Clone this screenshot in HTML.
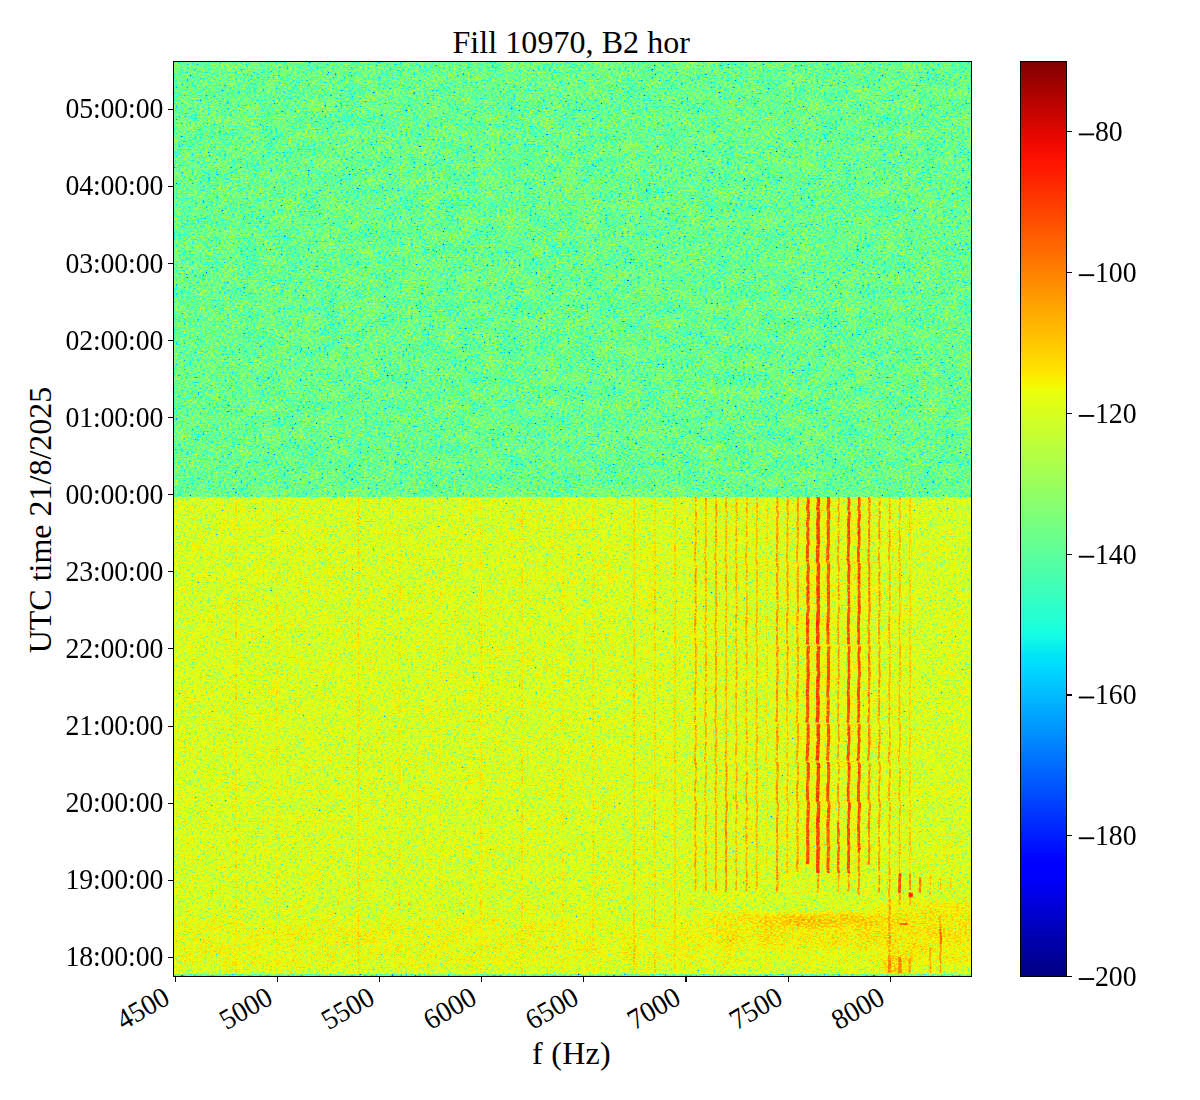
<!DOCTYPE html>
<html><head><meta charset="utf-8"><title>Fill 10970, B2 hor</title>
<style>
html,body{margin:0;padding:0;background:#fff;}
body{width:1200px;height:1100px;position:relative;overflow:hidden;font-family:"Liberation Serif",serif;color:#000;}
.t{position:absolute;white-space:nowrap;line-height:1;font-size:27.78px;}
.l{position:absolute;white-space:nowrap;line-height:1;font-size:32.00px;}
.k{position:absolute;background:#000;}
#spec{position:absolute;left:174px;top:62px;}
#frame{position:absolute;left:173px;top:61px;width:797px;height:914px;border:1px solid #000;}
#cbar{position:absolute;left:1020px;top:61px;width:45px;height:914px;border:1px solid #000;
background:linear-gradient(to top,#000080 0%,#0000ff 11%,#0000ff 12.5%,#00dcff 34%,#00e4f8 35%,#16ffe1 37.5%,#ecff0b 64%,#f8f500 65%,#ffe600 66%,#ff1300 89%,#f10800 91%,#800000 100%);}
</style></head><body>
<svg id="spec" width="797" height="914" viewBox="174 62 797 914">
<defs>
<filter id="jU" filterUnits="userSpaceOnUse" x="174" y="62" width="797" height="435" color-interpolation-filters="sRGB">
<feTurbulence type="fractalNoise" baseFrequency="0.37 0.61" numOctaves="2" seed="3" result="t"/>
<feColorMatrix in="t" type="matrix" values="1 0 0 0 0 1 0 0 0 0 1 0 0 0 0 0 0 0 0 1" result="tg"/>
<feComponentTransfer in="tg" result="nz"><feFuncR type="table" tableValues=".492 .492 .492 .492 .492 .492 .492 .492 .492 .492 .492 .492 .492 .492 .492 .492 .492 .492 .492 .492 .492 .492 .492 .492 .492 .492 .492 .492 .492 .492 .492 .493 .501 .512 .521 .528 .535 .541 .548 .554 .560 .565 .572 .579 .583 .588 .593 .598 .603 .608 .613 .618 .623 .628 .632 .637 .641 .646 .650 .654 .658 .662 .665 .669 .673 .676 .680 .683 .686 .689 .693 .696 .699 .701 .704 .707 .710 .713 .715 .717 .720 .722 .725 .727 .729 .731 .733 .735 .737 .739 .741 .743 .745 .747 .749 .751 .753 .754 .756 .758 .759 .761 .763 .764 .766 .767 .769 .771 .772 .774 .775 .777 .778 .780 .781 .783 .784 .785 .787 .788 .790 .791 .792 .794 .795 .797 .798 .799 .801 .803 .805 .806 .808 .810 .811 .813 .814 .816 .817 .819 .820 .821 .823 .824 .825 .827 .828 .829 .830 .832 .833 .834 .835 .836 .837 .839 .840 .841 .842 .843 .844 .845 .846 .847 .848 .850 .851 .852 .853 .854 .855 .856 .857 .858 .859 .860 .861 .862 .863 .864 .865 .866 .867 .869 .870 .871 .872 .873 .874 .875 .876 .877 .878 .879 .880 .882 .883 .884 .885 .886 .887 .888 .889 .890 .891 .892 .893 .894 .895 .896 .897 .898 .899 .900 .901 .902 .903 .904 .905 .906 .907 .908 .909 .911 .912 .913 .914 .916 .917 .919 .920 .922 .924 .927 .927 .928 .928 .928 .928 .928 .928 .928 .928 .928 .928 .928 .928 .928 .928 .928 .928 .928 .928 .928 .928 .928"/><feFuncG type="table" tableValues=".492 .492 .492 .492 .492 .492 .492 .492 .492 .492 .492 .492 .492 .492 .492 .492 .492 .492 .492 .492 .492 .492 .492 .492 .492 .492 .492 .492 .492 .492 .492 .493 .501 .512 .521 .528 .535 .541 .548 .554 .560 .565 .572 .579 .583 .588 .593 .598 .603 .608 .613 .618 .623 .628 .632 .637 .641 .646 .650 .654 .658 .662 .665 .669 .673 .676 .680 .683 .686 .689 .693 .696 .699 .701 .704 .707 .710 .713 .715 .717 .720 .722 .725 .727 .729 .731 .733 .735 .737 .739 .741 .743 .745 .747 .749 .751 .753 .754 .756 .758 .759 .761 .763 .764 .766 .767 .769 .771 .772 .774 .775 .777 .778 .780 .781 .783 .784 .785 .787 .788 .790 .791 .792 .794 .795 .797 .798 .799 .801 .803 .805 .806 .808 .810 .811 .813 .814 .816 .817 .819 .820 .821 .823 .824 .825 .827 .828 .829 .830 .832 .833 .834 .835 .836 .837 .839 .840 .841 .842 .843 .844 .845 .846 .847 .848 .850 .851 .852 .853 .854 .855 .856 .857 .858 .859 .860 .861 .862 .863 .864 .865 .866 .867 .869 .870 .871 .872 .873 .874 .875 .876 .877 .878 .879 .880 .882 .883 .884 .885 .886 .887 .888 .889 .890 .891 .892 .893 .894 .895 .896 .897 .898 .899 .900 .901 .902 .903 .904 .905 .906 .907 .908 .909 .911 .912 .913 .914 .916 .917 .919 .920 .922 .924 .927 .927 .928 .928 .928 .928 .928 .928 .928 .928 .928 .928 .928 .928 .928 .928 .928 .928 .928 .928 .928 .928 .928"/><feFuncB type="table" tableValues=".492 .492 .492 .492 .492 .492 .492 .492 .492 .492 .492 .492 .492 .492 .492 .492 .492 .492 .492 .492 .492 .492 .492 .492 .492 .492 .492 .492 .492 .492 .492 .493 .501 .512 .521 .528 .535 .541 .548 .554 .560 .565 .572 .579 .583 .588 .593 .598 .603 .608 .613 .618 .623 .628 .632 .637 .641 .646 .650 .654 .658 .662 .665 .669 .673 .676 .680 .683 .686 .689 .693 .696 .699 .701 .704 .707 .710 .713 .715 .717 .720 .722 .725 .727 .729 .731 .733 .735 .737 .739 .741 .743 .745 .747 .749 .751 .753 .754 .756 .758 .759 .761 .763 .764 .766 .767 .769 .771 .772 .774 .775 .777 .778 .780 .781 .783 .784 .785 .787 .788 .790 .791 .792 .794 .795 .797 .798 .799 .801 .803 .805 .806 .808 .810 .811 .813 .814 .816 .817 .819 .820 .821 .823 .824 .825 .827 .828 .829 .830 .832 .833 .834 .835 .836 .837 .839 .840 .841 .842 .843 .844 .845 .846 .847 .848 .850 .851 .852 .853 .854 .855 .856 .857 .858 .859 .860 .861 .862 .863 .864 .865 .866 .867 .869 .870 .871 .872 .873 .874 .875 .876 .877 .878 .879 .880 .882 .883 .884 .885 .886 .887 .888 .889 .890 .891 .892 .893 .894 .895 .896 .897 .898 .899 .900 .901 .902 .903 .904 .905 .906 .907 .908 .909 .911 .912 .913 .914 .916 .917 .919 .920 .922 .924 .927 .927 .928 .928 .928 .928 .928 .928 .928 .928 .928 .928 .928 .928 .928 .928 .928 .928 .928 .928 .928 .928 .928"/></feComponentTransfer>
<feTurbulence type="fractalNoise" baseFrequency="0.05 0.07" numOctaves="3" seed="11" result="lf0"/>
<feColorMatrix in="lf0" type="matrix" values="1 0 0 0 0 1 0 0 0 0 1 0 0 0 0 0 0 0 0 1" result="lf"/>
<feComposite in="SourceGraphic" in2="nz" operator="arithmetic" k1="-0.0000" k2="1.0000" k3="1.0000" k4="-0.8000" result="v0"/>
<feComposite in="v0" in2="lf" operator="arithmetic" k1="0" k2="1" k3="0.100" k4="-0.0500" result="v"/>
<feComponentTransfer in="v"><feFuncR type="table" tableValues="0 0 0 0 0 0 0 0 0 0 0 0 0 0 0 0 0 0 0 0 0 0 0 0 0 0 0 0 0 0 0 0 0 0 0 0 0 0 0 0 0 0 0 0 0 0 0 0 0 0 0 0 0 0 0 0 0 0 0 0 0 0 0 0 0 0 0 0 0 0 0 0.016 0.032 0.048 0.065 0.081 0.097 0.113 0.129 0.145 0.161 0.177 0.194 0.21 0.226 0.242 0.258 0.274 0.29 0.306 0.323 0.339 0.355 0.371 0.387 0.403 0.419 0.435 0.452 0.468 0.484 0.5 0.516 0.532 0.548 0.565 0.581 0.597 0.613 0.629 0.645 0.661 0.677 0.694 0.71 0.726 0.742 0.758 0.774 0.79 0.806 0.823 0.839 0.855 0.871 0.887 0.903 0.919 0.935 0.952 0.968 0.984 1 1 1 1 1 1 1 1 1 1 1 1 1 1 1 1 1 1 1 1 1 1 1 1 1 1 1 1 1 1 1 1 1 1 1 1 1 1 1 1 1 1 1 1 1 1 1 0.977 0.955 0.932 0.909 0.886 0.864 0.841 0.818 0.795 0.773 0.75 0.727 0.705 0.682 0.659 0.636 0.614 0.591 0.568 0.545 0.523 0.5"/>
<feFuncG type="table" tableValues="0 0 0 0 0 0 0 0 0 0 0 0 0 0 0 0 0 0 0 0 0 0 0 0 0 0 0.02 0.04 0.06 0.08 0.1 0.12 0.14 0.16 0.18 0.2 0.22 0.24 0.26 0.28 0.3 0.32 0.34 0.36 0.38 0.4 0.42 0.44 0.46 0.48 0.5 0.52 0.54 0.56 0.58 0.6 0.62 0.64 0.66 0.68 0.7 0.72 0.74 0.76 0.78 0.8 0.82 0.84 0.86 0.88 0.9 0.92 0.94 0.96 0.98 1 1 1 1 1 1 1 1 1 1 1 1 1 1 1 1 1 1 1 1 1 1 1 1 1 1 1 1 1 1 1 1 1 1 1 1 1 1 1 1 1 1 1 1 1 1 1 1 1 1 1 1 1 1 0.981 0.963 0.944 0.926 0.907 0.889 0.87 0.852 0.833 0.815 0.796 0.778 0.759 0.741 0.722 0.704 0.685 0.667 0.648 0.63 0.611 0.593 0.574 0.556 0.537 0.519 0.5 0.481 0.463 0.444 0.426 0.407 0.389 0.37 0.352 0.333 0.315 0.296 0.278 0.259 0.241 0.222 0.204 0.185 0.167 0.148 0.13 0.111 0.093 0.074 0.056 0.037 0.019 0 0 0 0 0 0 0 0 0 0 0 0 0 0 0 0 0 0 0"/>
<feFuncB type="table" tableValues="0.5 0.523 0.545 0.568 0.591 0.614 0.636 0.659 0.682 0.705 0.727 0.75 0.773 0.795 0.818 0.841 0.864 0.886 0.909 0.932 0.955 0.977 1 1 1 1 1 1 1 1 1 1 1 1 1 1 1 1 1 1 1 1 1 1 1 1 1 1 1 1 1 1 1 1 1 1 1 1 1 1 1 1 1 1 1 1 1 1 1 0.984 0.968 0.952 0.935 0.919 0.903 0.887 0.871 0.855 0.839 0.823 0.806 0.79 0.774 0.758 0.742 0.726 0.71 0.694 0.677 0.661 0.645 0.629 0.613 0.597 0.581 0.565 0.548 0.532 0.516 0.5 0.484 0.468 0.452 0.435 0.419 0.403 0.387 0.371 0.355 0.339 0.323 0.306 0.29 0.274 0.258 0.242 0.226 0.21 0.194 0.177 0.161 0.145 0.129 0.113 0.097 0.081 0.065 0.048 0.032 0.016 0 0 0 0 0 0 0 0 0 0 0 0 0 0 0 0 0 0 0 0 0 0 0 0 0 0 0 0 0 0 0 0 0 0 0 0 0 0 0 0 0 0 0 0 0 0 0 0 0 0 0 0 0 0 0 0 0 0 0 0 0 0 0 0 0 0 0 0 0 0 0"/></feComponentTransfer>
</filter>
<filter id="jL" filterUnits="userSpaceOnUse" x="174" y="497" width="797" height="479" color-interpolation-filters="sRGB">
<feTurbulence type="fractalNoise" baseFrequency="0.37 0.61" numOctaves="2" seed="3" result="t"/>
<feColorMatrix in="t" type="matrix" values="1 0 0 0 0 1 0 0 0 0 1 0 0 0 0 0 0 0 0 1" result="tg"/>
<feComponentTransfer in="tg" result="nz"><feFuncR type="table" tableValues=".446 .446 .446 .446 .446 .446 .446 .446 .446 .446 .446 .446 .446 .446 .446 .446 .446 .446 .446 .446 .446 .446 .446 .446 .446 .446 .446 .446 .446 .446 .446 .446 .446 .446 .446 .446 .446 .569 .569 .569 .569 .569 .572 .579 .583 .588 .593 .598 .603 .608 .613 .618 .623 .628 .632 .637 .641 .646 .650 .654 .658 .662 .665 .669 .673 .676 .680 .683 .686 .689 .693 .696 .699 .701 .704 .707 .710 .713 .715 .717 .720 .722 .725 .727 .729 .731 .733 .735 .737 .739 .741 .743 .745 .747 .749 .751 .753 .754 .756 .758 .759 .761 .763 .764 .766 .767 .769 .771 .772 .774 .775 .777 .778 .780 .781 .783 .784 .785 .787 .788 .790 .791 .792 .794 .795 .797 .798 .799 .800 .802 .803 .804 .805 .806 .807 .808 .809 .810 .811 .811 .812 .813 .814 .815 .816 .816 .817 .818 .819 .819 .820 .821 .822 .822 .823 .824 .824 .825 .826 .826 .827 .828 .829 .829 .830 .830 .831 .832 .832 .833 .834 .834 .835 .836 .836 .837 .838 .838 .839 .840 .840 .841 .842 .842 .843 .844 .844 .845 .846 .846 .847 .847 .848 .849 .849 .850 .851 .851 .852 .853 .853 .854 .855 .855 .856 .857 .857 .858 .858 .859 .860 .860 .861 .862 .862 .863 .863 .864 .865 .865 .866 .867 .867 .868 .869 .869 .870 .871 .872 .873 .874 .875 .876 .878 .878 .879 .879 .879 .879 .879 .879 .879 .879 .879 .879 .879 .879 .879 .879 .879 .879 .879 .879 .879 .879 .879"/><feFuncG type="table" tableValues=".446 .446 .446 .446 .446 .446 .446 .446 .446 .446 .446 .446 .446 .446 .446 .446 .446 .446 .446 .446 .446 .446 .446 .446 .446 .446 .446 .446 .446 .446 .446 .446 .446 .446 .446 .446 .446 .569 .569 .569 .569 .569 .572 .579 .583 .588 .593 .598 .603 .608 .613 .618 .623 .628 .632 .637 .641 .646 .650 .654 .658 .662 .665 .669 .673 .676 .680 .683 .686 .689 .693 .696 .699 .701 .704 .707 .710 .713 .715 .717 .720 .722 .725 .727 .729 .731 .733 .735 .737 .739 .741 .743 .745 .747 .749 .751 .753 .754 .756 .758 .759 .761 .763 .764 .766 .767 .769 .771 .772 .774 .775 .777 .778 .780 .781 .783 .784 .785 .787 .788 .790 .791 .792 .794 .795 .797 .798 .799 .800 .802 .803 .804 .805 .806 .807 .808 .809 .810 .811 .811 .812 .813 .814 .815 .816 .816 .817 .818 .819 .819 .820 .821 .822 .822 .823 .824 .824 .825 .826 .826 .827 .828 .829 .829 .830 .830 .831 .832 .832 .833 .834 .834 .835 .836 .836 .837 .838 .838 .839 .840 .840 .841 .842 .842 .843 .844 .844 .845 .846 .846 .847 .847 .848 .849 .849 .850 .851 .851 .852 .853 .853 .854 .855 .855 .856 .857 .857 .858 .858 .859 .860 .860 .861 .862 .862 .863 .863 .864 .865 .865 .866 .867 .867 .868 .869 .869 .870 .871 .872 .873 .874 .875 .876 .878 .878 .879 .879 .879 .879 .879 .879 .879 .879 .879 .879 .879 .879 .879 .879 .879 .879 .879 .879 .879 .879 .879"/><feFuncB type="table" tableValues=".446 .446 .446 .446 .446 .446 .446 .446 .446 .446 .446 .446 .446 .446 .446 .446 .446 .446 .446 .446 .446 .446 .446 .446 .446 .446 .446 .446 .446 .446 .446 .446 .446 .446 .446 .446 .446 .569 .569 .569 .569 .569 .572 .579 .583 .588 .593 .598 .603 .608 .613 .618 .623 .628 .632 .637 .641 .646 .650 .654 .658 .662 .665 .669 .673 .676 .680 .683 .686 .689 .693 .696 .699 .701 .704 .707 .710 .713 .715 .717 .720 .722 .725 .727 .729 .731 .733 .735 .737 .739 .741 .743 .745 .747 .749 .751 .753 .754 .756 .758 .759 .761 .763 .764 .766 .767 .769 .771 .772 .774 .775 .777 .778 .780 .781 .783 .784 .785 .787 .788 .790 .791 .792 .794 .795 .797 .798 .799 .800 .802 .803 .804 .805 .806 .807 .808 .809 .810 .811 .811 .812 .813 .814 .815 .816 .816 .817 .818 .819 .819 .820 .821 .822 .822 .823 .824 .824 .825 .826 .826 .827 .828 .829 .829 .830 .830 .831 .832 .832 .833 .834 .834 .835 .836 .836 .837 .838 .838 .839 .840 .840 .841 .842 .842 .843 .844 .844 .845 .846 .846 .847 .847 .848 .849 .849 .850 .851 .851 .852 .853 .853 .854 .855 .855 .856 .857 .857 .858 .858 .859 .860 .860 .861 .862 .862 .863 .863 .864 .865 .865 .866 .867 .867 .868 .869 .869 .870 .871 .872 .873 .874 .875 .876 .878 .878 .879 .879 .879 .879 .879 .879 .879 .879 .879 .879 .879 .879 .879 .879 .879 .879 .879 .879 .879 .879 .879"/></feComponentTransfer>
<feTurbulence type="fractalNoise" baseFrequency="0.05 0.07" numOctaves="3" seed="11" result="lf0"/>
<feColorMatrix in="lf0" type="matrix" values="1 0 0 0 0 1 0 0 0 0 1 0 0 0 0 0 0 0 0 1" result="lf"/>
<feComposite in="SourceGraphic" in2="nz" operator="arithmetic" k1="-2.2000" k2="2.7600" k3="2.3606" k4="-1.8885" result="v0"/>
<feComposite in="v0" in2="lf" operator="arithmetic" k1="0" k2="1" k3="0.060" k4="-0.0300" result="v"/>
<feComponentTransfer in="v"><feFuncR type="table" tableValues="0 0 0 0 0 0 0 0 0 0 0 0 0 0 0 0 0 0 0 0 0 0 0 0 0 0 0 0 0 0 0 0 0 0 0 0 0 0 0 0 0 0 0 0 0 0 0 0 0 0 0 0 0 0 0 0 0 0 0 0 0 0 0 0 0 0 0 0 0 0 0 0.016 0.032 0.048 0.065 0.081 0.097 0.113 0.129 0.145 0.161 0.177 0.194 0.21 0.226 0.242 0.258 0.274 0.29 0.306 0.323 0.339 0.355 0.371 0.387 0.403 0.419 0.435 0.452 0.468 0.484 0.5 0.516 0.532 0.548 0.565 0.581 0.597 0.613 0.629 0.645 0.661 0.677 0.694 0.71 0.726 0.742 0.758 0.774 0.79 0.806 0.823 0.839 0.855 0.871 0.887 0.903 0.919 0.935 0.952 0.968 0.984 1 1 1 1 1 1 1 1 1 1 1 1 1 1 1 1 1 1 1 1 1 1 1 1 1 1 1 1 1 1 1 1 1 1 1 1 1 1 1 1 1 1 1 1 1 1 1 0.977 0.955 0.932 0.909 0.886 0.864 0.841 0.818 0.795 0.773 0.75 0.727 0.705 0.682 0.659 0.636 0.614 0.591 0.568 0.545 0.523 0.5"/>
<feFuncG type="table" tableValues="0 0 0 0 0 0 0 0 0 0 0 0 0 0 0 0 0 0 0 0 0 0 0 0 0 0 0.02 0.04 0.06 0.08 0.1 0.12 0.14 0.16 0.18 0.2 0.22 0.24 0.26 0.28 0.3 0.32 0.34 0.36 0.38 0.4 0.42 0.44 0.46 0.48 0.5 0.52 0.54 0.56 0.58 0.6 0.62 0.64 0.66 0.68 0.7 0.72 0.74 0.76 0.78 0.8 0.82 0.84 0.86 0.88 0.9 0.92 0.94 0.96 0.98 1 1 1 1 1 1 1 1 1 1 1 1 1 1 1 1 1 1 1 1 1 1 1 1 1 1 1 1 1 1 1 1 1 1 1 1 1 1 1 1 1 1 1 1 1 1 1 1 1 1 1 1 1 1 0.981 0.963 0.944 0.926 0.907 0.889 0.87 0.852 0.833 0.815 0.796 0.778 0.759 0.741 0.722 0.704 0.685 0.667 0.648 0.63 0.611 0.593 0.574 0.556 0.537 0.519 0.5 0.481 0.463 0.444 0.426 0.407 0.389 0.37 0.352 0.333 0.315 0.296 0.278 0.259 0.241 0.222 0.204 0.185 0.167 0.148 0.13 0.111 0.093 0.074 0.056 0.037 0.019 0 0 0 0 0 0 0 0 0 0 0 0 0 0 0 0 0 0 0"/>
<feFuncB type="table" tableValues="0.5 0.523 0.545 0.568 0.591 0.614 0.636 0.659 0.682 0.705 0.727 0.75 0.773 0.795 0.818 0.841 0.864 0.886 0.909 0.932 0.955 0.977 1 1 1 1 1 1 1 1 1 1 1 1 1 1 1 1 1 1 1 1 1 1 1 1 1 1 1 1 1 1 1 1 1 1 1 1 1 1 1 1 1 1 1 1 1 1 1 0.984 0.968 0.952 0.935 0.919 0.903 0.887 0.871 0.855 0.839 0.823 0.806 0.79 0.774 0.758 0.742 0.726 0.71 0.694 0.677 0.661 0.645 0.629 0.613 0.597 0.581 0.565 0.548 0.532 0.516 0.5 0.484 0.468 0.452 0.435 0.419 0.403 0.387 0.371 0.355 0.339 0.323 0.306 0.29 0.274 0.258 0.242 0.226 0.21 0.194 0.177 0.161 0.145 0.129 0.113 0.097 0.081 0.065 0.048 0.032 0.016 0 0 0 0 0 0 0 0 0 0 0 0 0 0 0 0 0 0 0 0 0 0 0 0 0 0 0 0 0 0 0 0 0 0 0 0 0 0 0 0 0 0 0 0 0 0 0 0 0 0 0 0 0 0 0 0 0 0 0 0 0 0 0 0 0 0 0 0 0 0 0"/></feComponentTransfer>
</filter>
<filter id="sb" filterUnits="userSpaceOnUse" x="100" y="850" width="950" height="180" color-interpolation-filters="sRGB"><feGaussianBlur stdDeviation="6 2.2"/></filter>
<filter id="sb2" filterUnits="userSpaceOnUse" x="700" y="480" width="300" height="420" color-interpolation-filters="sRGB"><feGaussianBlur stdDeviation="3 3"/></filter>
</defs>
<g filter="url(#jU)"><rect x="170.0" y="58.0" width="806.0" height="439.0" fill="rgb(123,123,123)"/></g>
<g filter="url(#jL)" fill="none" stroke-linecap="butt" stroke-linejoin="round">
<rect x="170.0" y="497.0" width="806.0" height="483.0" fill="rgb(158,158,158)"/>
<g filter="url(#sb)">
<rect x="150.0" y="893.0" width="850.0" height="23.0" fill="rgb(157,157,157)"/>
<rect x="150.0" y="919.0" width="850.0" height="47.0" fill="rgb(162,162,162)"/>
<rect x="150.0" y="924.0" width="410.0" height="26.0" fill="rgb(164,164,164)" fill-opacity="0.80"/>
<rect x="700.0" y="912.0" width="300.0" height="38.0" fill="rgb(168,168,168)" fill-opacity="0.90"/>
<rect x="760.0" y="914.0" width="240.0" height="14.0" fill="rgb(174,174,174)" fill-opacity="0.90"/>
<rect x="785.0" y="916.0" width="108.0" height="10.0" fill="rgb(179,179,179)" fill-opacity="0.90"/>
<rect x="884.0" y="900.0" width="116.0" height="62.0" fill="rgb(169,169,169)" fill-opacity="0.70"/>
<rect x="884.0" y="955.0" width="28.0" height="30.0" fill="rgb(179,179,179)" fill-opacity="0.90"/>
</g>
<rect x="170.0" y="974.2" width="806.0" height="5.8" fill="rgb(120,120,120)"/>
<path d="M236.1 497.0 L236.1 500.0 L236.2 503.0 L236.1 506.0 L236.0 509.0 L236.2 512.0 L236.2 515.0 L236.1 518.0 L236.0 521.0 L236.0 524.0 L236.1 527.0 L236.1 530.0 L236.1 533.0 L236.0 536.0 L236.1 539.0 L236.1 542.0 L236.1 545.0 L236.0 548.0 L236.0 551.0 L236.0 554.0 L235.9 557.0 L235.9 560.0 L236.1 563.0 L236.1 566.0 L236.2 569.0 L236.1 572.0 L236.1 575.0 L236.0 578.0 L236.0 581.0 L236.2 584.0 L236.1 587.0 L236.1 590.0 L236.1 593.0 L236.1 596.0 L236.1 599.0 L236.1 602.0 L236.2 605.0 L236.2 608.0 L236.1 611.0 L236.0 614.0 L236.0 617.0 L236.0 620.0 L236.0 623.0 L235.9 626.0 L235.9 629.0 L236.0 632.0 L236.1 635.0 L236.0 638.0 L236.0 641.0 L236.0 644.0 L236.2 647.0 L236.2 650.0 L236.1 653.0 L236.0 656.0 L236.1 659.0 L236.1 662.0 L236.1 665.0 L236.1 668.0 L236.2 671.0 L236.2 674.0 L236.1 677.0 L236.1 680.0 L236.0 683.0 L236.1 686.0 L236.0 689.0 L235.9 692.0 L235.9 695.0 L236.0 698.0 L236.1 701.0 L236.0 704.0 L236.0 707.0 L236.0 710.0 L236.1 713.0 L236.0 716.0 L235.9 719.0 L235.9 722.0 L236.1 725.0 L236.1 728.0 L236.1 731.0 L236.1 734.0 L236.1 737.0 L236.2 740.0 L236.1 743.0 L236.0 746.0 L236.0 749.0 L236.0 752.0 L236.0 755.0 L235.9 758.0 L235.9 761.0 L236.2 764.0 L236.2 767.0 L236.2 770.0 L236.1 773.0 L236.1 776.0 L236.2 779.0 L236.1 782.0 L236.0 785.0 L235.9 788.0 L236.0 791.0 L236.0 794.0 L235.9 797.0 L235.9 800.0 L236.2 803.0 L236.3 806.0 L236.2 809.0 L236.1 812.0 L236.1 815.0 L236.1 818.0 L236.1 821.0 L236.0 824.0 L235.9 827.0 L236.0 830.0 L236.1 833.0 L236.0 836.0 L236.0 839.0 L236.0 842.0 L236.0 845.0 L236.2 848.0 L236.1 851.0 L236.0 854.0 L236.1 857.0 L236.0 860.0 L236.0 863.0 L236.0 866.0 L236.0 869.0 L236.1 872.0 L236.1 875.0 L236.1 878.0 L236.1 881.0 L236.1 884.0 L236.0 887.0 L236.0 890.0 L236.0 893.0 L236.0 896.0 L236.1 899.0 L236.1 902.0 L236.1 905.0 L236.1 908.0 L236.2 911.0 L236.1 914.0 L236.0 917.0 L236.0 920.0 L236.0 923.0 L236.0 926.0 L236.0 929.0 L236.0 932.0 L236.1 935.0 L236.2 938.0 L236.1 941.0 L236.1 944.0 L236.1 947.0 L236.1 950.0 L236.1 953.0 L236.0 956.0 L236.0 959.0 L236.0 962.0 L236.1 965.0 L236.1 968.0 L236.1 971.0 L236.1 973.0" stroke="rgb(168,168,168)" stroke-width="2.0"/>
<path d="M276.9 497.0 L277.0 500.0 L277.0 503.0 L276.9 506.0 L276.8 509.0 L277.0 512.0 L277.1 515.0 L277.0 518.0 L276.9 521.0 L276.9 524.0 L276.9 527.0 L276.9 530.0 L276.9 533.0 L276.9 536.0 L277.0 539.0 L277.0 542.0 L276.9 545.0 L276.8 548.0 L276.8 551.0 L276.8 554.0 L276.8 557.0 L276.7 560.0 L276.9 563.0 L277.0 566.0 L277.0 569.0 L277.0 572.0 L276.9 575.0 L276.9 578.0 L276.9 581.0 L277.0 584.0 L276.9 587.0 L276.9 590.0 L277.0 593.0 L277.0 596.0 L276.9 599.0 L276.9 602.0 L277.0 605.0 L277.0 608.0 L277.0 611.0 L276.9 614.0 L276.9 617.0 L276.9 620.0 L276.8 623.0 L276.8 626.0 L276.8 629.0 L276.8 632.0 L276.9 635.0 L276.9 638.0 L276.8 641.0 L276.8 644.0 L277.1 647.0 L277.0 650.0 L276.9 653.0 L276.9 656.0 L276.9 659.0 L277.0 662.0 L276.9 665.0 L276.9 668.0 L277.0 671.0 L277.1 674.0 L277.0 677.0 L276.9 680.0 L276.9 683.0 L276.9 686.0 L276.9 689.0 L276.8 692.0 L276.8 695.0 L276.9 698.0 L276.9 701.0 L276.9 704.0 L276.8 707.0 L276.9 710.0 L276.9 713.0 L276.8 716.0 L276.7 719.0 L276.7 722.0 L277.0 725.0 L277.0 728.0 L276.9 731.0 L276.9 734.0 L277.0 737.0 L277.0 740.0 L277.0 743.0 L276.9 746.0 L276.8 749.0 L276.9 752.0 L276.8 755.0 L276.7 758.0 L276.7 761.0 L277.0 764.0 L277.1 767.0 L277.0 770.0 L277.0 773.0 L277.0 776.0 L277.0 779.0 L276.9 782.0 L276.8 785.0 L276.8 788.0 L276.8 791.0 L276.8 794.0 L276.8 797.0 L276.8 800.0 L277.1 803.0 L277.1 806.0 L277.1 809.0 L277.0 812.0 L276.9 815.0 L276.9 818.0 L276.9 821.0 L276.8 824.0 L276.8 827.0 L276.9 830.0 L276.9 833.0 L276.9 836.0 L276.8 839.0 L276.9 842.0 L276.9 845.0 L277.0 848.0 L276.9 851.0 L276.9 854.0 L276.9 857.0 L276.9 860.0 L276.8 863.0 L276.8 866.0 L276.9 869.0 L276.9 872.0 L277.0 875.0 L276.9 878.0 L276.9 881.0 L276.9 884.0 L276.9 887.0 L276.8 890.0 L276.8 893.0 L276.9 896.0 L276.9 899.0 L276.9 902.0 L276.9 905.0 L277.0 908.0 L277.0 911.0 L276.9 914.0 L276.8 917.0 L276.8 920.0 L276.9 923.0 L276.9 926.0 L276.8 929.0 L276.8 932.0 L276.9 935.0 L277.0 938.0 L277.0 941.0 L276.9 944.0 L276.9 947.0 L276.9 950.0 L276.9 953.0 L276.8 956.0 L276.8 959.0 L276.9 962.0 L276.9 965.0 L276.9 968.0 L276.9 971.0 L276.9 973.0" stroke="rgb(167,167,167)" stroke-width="2.0"/>
<path d="M358.6 497.0 L358.7 500.0 L358.7 503.0 L358.6 506.0 L358.5 509.0 L358.7 512.0 L358.8 515.0 L358.7 518.0 L358.6 521.0 L358.5 524.0 L358.6 527.0 L358.6 530.0 L358.6 533.0 L358.6 536.0 L358.6 539.0 L358.7 542.0 L358.6 545.0 L358.5 548.0 L358.5 551.0 L358.5 554.0 L358.4 557.0 L358.4 560.0 L358.6 563.0 L358.7 566.0 L358.7 569.0 L358.7 572.0 L358.6 575.0 L358.6 578.0 L358.6 581.0 L358.7 584.0 L358.6 587.0 L358.6 590.0 L358.6 593.0 L358.7 596.0 L358.6 599.0 L358.6 602.0 L358.7 605.0 L358.7 608.0 L358.7 611.0 L358.6 614.0 L358.5 617.0 L358.6 620.0 L358.5 623.0 L358.4 626.0 L358.4 629.0 L358.5 632.0 L358.6 635.0 L358.5 638.0 L358.5 641.0 L358.5 644.0 L358.8 647.0 L358.7 650.0 L358.6 653.0 L358.6 656.0 L358.6 659.0 L358.7 662.0 L358.6 665.0 L358.6 668.0 L358.7 671.0 L358.7 674.0 L358.7 677.0 L358.6 680.0 L358.6 683.0 L358.6 686.0 L358.5 689.0 L358.5 692.0 L358.4 695.0 L358.5 698.0 L358.6 701.0 L358.6 704.0 L358.5 707.0 L358.6 710.0 L358.6 713.0 L358.5 716.0 L358.4 719.0 L358.4 722.0 L358.7 725.0 L358.7 728.0 L358.6 731.0 L358.6 734.0 L358.7 737.0 L358.7 740.0 L358.7 743.0 L358.5 746.0 L358.5 749.0 L358.5 752.0 L358.5 755.0 L358.4 758.0 L358.4 761.0 L358.7 764.0 L358.7 767.0 L358.7 770.0 L358.6 773.0 L358.7 776.0 L358.7 779.0 L358.6 782.0 L358.5 785.0 L358.4 788.0 L358.5 791.0 L358.5 794.0 L358.4 797.0 L358.4 800.0 L358.8 803.0 L358.8 806.0 L358.7 809.0 L358.6 812.0 L358.6 815.0 L358.6 818.0 L358.6 821.0 L358.5 824.0 L358.5 827.0 L358.5 830.0 L358.6 833.0 L358.5 836.0 L358.5 839.0 L358.5 842.0 L358.6 845.0 L358.7 848.0 L358.6 851.0 L358.5 854.0 L358.6 857.0 L358.6 860.0 L358.5 863.0 L358.5 866.0 L358.5 869.0 L358.6 872.0 L358.7 875.0 L358.6 878.0 L358.6 881.0 L358.6 884.0 L358.6 887.0 L358.5 890.0 L358.5 893.0 L358.6 896.0 L358.6 899.0 L358.6 902.0 L358.6 905.0 L358.6 908.0 L358.7 911.0 L358.6 914.0 L358.5 917.0 L358.5 920.0 L358.5 923.0 L358.6 926.0 L358.5 929.0 L358.5 932.0 L358.6 935.0 L358.7 938.0 L358.7 941.0 L358.6 944.0 L358.6 947.0 L358.6 950.0 L358.6 953.0 L358.5 956.0 L358.5 959.0 L358.6 962.0 L358.6 965.0 L358.6 968.0 L358.6 971.0 L358.6 973.0" stroke="rgb(172,172,172)" stroke-width="2.0"/>
<path d="M399.5 497.0 L399.5 500.0 L399.5 503.0 L399.4 506.0 L399.3 509.0 L399.6 512.0 L399.6 515.0 L399.5 518.0 L399.4 521.0 L399.4 524.0 L399.4 527.0 L399.5 530.0 L399.4 533.0 L399.4 536.0 L399.5 539.0 L399.5 542.0 L399.4 545.0 L399.3 548.0 L399.3 551.0 L399.3 554.0 L399.3 557.0 L399.2 560.0 L399.4 563.0 L399.5 566.0 L399.6 569.0 L399.5 572.0 L399.4 575.0 L399.4 578.0 L399.4 581.0 L399.6 584.0 L399.4 587.0 L399.4 590.0 L399.5 593.0 L399.5 596.0 L399.5 599.0 L399.5 602.0 L399.5 605.0 L399.6 608.0 L399.5 611.0 L399.4 614.0 L399.4 617.0 L399.4 620.0 L399.4 623.0 L399.3 626.0 L399.3 629.0 L399.4 632.0 L399.4 635.0 L399.4 638.0 L399.3 641.0 L399.3 644.0 L399.6 647.0 L399.6 650.0 L399.4 653.0 L399.4 656.0 L399.5 659.0 L399.5 662.0 L399.5 665.0 L399.4 668.0 L399.5 671.0 L399.6 674.0 L399.5 677.0 L399.4 680.0 L399.4 683.0 L399.4 686.0 L399.4 689.0 L399.3 692.0 L399.3 695.0 L399.4 698.0 L399.4 701.0 L399.4 704.0 L399.4 707.0 L399.4 710.0 L399.4 713.0 L399.3 716.0 L399.2 719.0 L399.2 722.0 L399.5 725.0 L399.5 728.0 L399.5 731.0 L399.4 734.0 L399.5 737.0 L399.6 740.0 L399.5 743.0 L399.4 746.0 L399.4 749.0 L399.4 752.0 L399.3 755.0 L399.2 758.0 L399.2 761.0 L399.5 764.0 L399.6 767.0 L399.5 770.0 L399.5 773.0 L399.5 776.0 L399.5 779.0 L399.5 782.0 L399.3 785.0 L399.3 788.0 L399.3 791.0 L399.3 794.0 L399.3 797.0 L399.3 800.0 L399.6 803.0 L399.7 806.0 L399.6 809.0 L399.5 812.0 L399.5 815.0 L399.5 818.0 L399.4 821.0 L399.3 824.0 L399.3 827.0 L399.4 830.0 L399.4 833.0 L399.4 836.0 L399.3 839.0 L399.4 842.0 L399.4 845.0 L399.6 848.0 L399.4 851.0 L399.4 854.0 L399.4 857.0 L399.4 860.0 L399.3 863.0 L399.3 866.0 L399.4 869.0 L399.4 872.0 L399.5 875.0 L399.4 878.0 L399.4 881.0 L399.4 884.0 L399.4 887.0 L399.3 890.0 L399.3 893.0 L399.4 896.0 L399.5 899.0 L399.5 902.0 L399.4 905.0 L399.5 908.0 L399.5 911.0 L399.5 914.0 L399.4 917.0 L399.3 920.0 L399.4 923.0 L399.4 926.0 L399.4 929.0 L399.4 932.0 L399.5 935.0 L399.5 938.0 L399.5 941.0 L399.4 944.0 L399.4 947.0 L399.5 950.0 L399.4 953.0 L399.3 956.0 L399.3 959.0 L399.4 962.0 L399.5 965.0 L399.4 968.0 L399.4 971.0 L399.5 973.0" stroke="rgb(167,167,167)" stroke-width="2.0"/>
<path d="M440.3 497.0 L440.4 500.0 L440.4 503.0 L440.3 506.0 L440.2 509.0 L440.4 512.0 L440.4 515.0 L440.4 518.0 L440.2 521.0 L440.2 524.0 L440.3 527.0 L440.3 530.0 L440.3 533.0 L440.2 536.0 L440.3 539.0 L440.4 542.0 L440.3 545.0 L440.2 548.0 L440.1 551.0 L440.2 554.0 L440.1 557.0 L440.0 560.0 L440.3 563.0 L440.4 566.0 L440.4 569.0 L440.3 572.0 L440.3 575.0 L440.2 578.0 L440.2 581.0 L440.4 584.0 L440.3 587.0 L440.3 590.0 L440.3 593.0 L440.4 596.0 L440.3 599.0 L440.3 602.0 L440.4 605.0 L440.4 608.0 L440.4 611.0 L440.2 614.0 L440.2 617.0 L440.2 620.0 L440.2 623.0 L440.1 626.0 L440.1 629.0 L440.2 632.0 L440.3 635.0 L440.2 638.0 L440.2 641.0 L440.2 644.0 L440.5 647.0 L440.4 650.0 L440.3 653.0 L440.2 656.0 L440.3 659.0 L440.3 662.0 L440.3 665.0 L440.3 668.0 L440.4 671.0 L440.4 674.0 L440.4 677.0 L440.3 680.0 L440.2 683.0 L440.3 686.0 L440.2 689.0 L440.1 692.0 L440.1 695.0 L440.2 698.0 L440.3 701.0 L440.2 704.0 L440.2 707.0 L440.2 710.0 L440.3 713.0 L440.2 716.0 L440.1 719.0 L440.0 722.0 L440.4 725.0 L440.4 728.0 L440.3 731.0 L440.3 734.0 L440.4 737.0 L440.4 740.0 L440.3 743.0 L440.2 746.0 L440.2 749.0 L440.2 752.0 L440.1 755.0 L440.0 758.0 L440.0 761.0 L440.4 764.0 L440.4 767.0 L440.4 770.0 L440.3 773.0 L440.4 776.0 L440.4 779.0 L440.3 782.0 L440.2 785.0 L440.1 788.0 L440.2 791.0 L440.2 794.0 L440.1 797.0 L440.1 800.0 L440.4 803.0 L440.5 806.0 L440.4 809.0 L440.3 812.0 L440.3 815.0 L440.3 818.0 L440.3 821.0 L440.1 824.0 L440.1 827.0 L440.2 830.0 L440.3 833.0 L440.2 836.0 L440.2 839.0 L440.2 842.0 L440.2 845.0 L440.4 848.0 L440.3 851.0 L440.2 854.0 L440.2 857.0 L440.2 860.0 L440.2 863.0 L440.1 866.0 L440.2 869.0 L440.3 872.0 L440.3 875.0 L440.3 878.0 L440.3 881.0 L440.3 884.0 L440.2 887.0 L440.1 890.0 L440.1 893.0 L440.2 896.0 L440.3 899.0 L440.3 902.0 L440.3 905.0 L440.3 908.0 L440.4 911.0 L440.3 914.0 L440.2 917.0 L440.2 920.0 L440.2 923.0 L440.2 926.0 L440.2 929.0 L440.2 932.0 L440.3 935.0 L440.4 938.0 L440.3 941.0 L440.3 944.0 L440.3 947.0 L440.3 950.0 L440.2 953.0 L440.1 956.0 L440.1 959.0 L440.2 962.0 L440.3 965.0 L440.3 968.0 L440.3 971.0 L440.3 973.0" stroke="rgb(164,164,164)" stroke-width="2.0"/>
<path d="M481.1 497.0 L481.2 500.0 L481.2 503.0 L481.1 506.0 L481.0 509.0 L481.3 512.0 L481.3 515.0 L481.2 518.0 L481.1 521.0 L481.0 524.0 L481.1 527.0 L481.2 530.0 L481.1 533.0 L481.1 536.0 L481.2 539.0 L481.2 542.0 L481.1 545.0 L481.0 548.0 L481.0 551.0 L481.0 554.0 L481.0 557.0 L480.9 560.0 L481.1 563.0 L481.2 566.0 L481.3 569.0 L481.2 572.0 L481.1 575.0 L481.1 578.0 L481.1 581.0 L481.3 584.0 L481.1 587.0 L481.1 590.0 L481.2 593.0 L481.2 596.0 L481.1 599.0 L481.1 602.0 L481.2 605.0 L481.3 608.0 L481.2 611.0 L481.1 614.0 L481.0 617.0 L481.1 620.0 L481.0 623.0 L480.9 626.0 L480.9 629.0 L481.0 632.0 L481.1 635.0 L481.1 638.0 L481.0 641.0 L481.0 644.0 L481.3 647.0 L481.2 650.0 L481.1 653.0 L481.1 656.0 L481.2 659.0 L481.2 662.0 L481.1 665.0 L481.1 668.0 L481.2 671.0 L481.3 674.0 L481.2 677.0 L481.1 680.0 L481.1 683.0 L481.1 686.0 L481.1 689.0 L481.0 692.0 L481.0 695.0 L481.1 698.0 L481.1 701.0 L481.1 704.0 L481.0 707.0 L481.1 710.0 L481.1 713.0 L481.0 716.0 L480.9 719.0 L480.9 722.0 L481.2 725.0 L481.2 728.0 L481.1 731.0 L481.1 734.0 L481.2 737.0 L481.3 740.0 L481.2 743.0 L481.1 746.0 L481.0 749.0 L481.0 752.0 L481.0 755.0 L480.9 758.0 L480.8 761.0 L481.2 764.0 L481.3 767.0 L481.2 770.0 L481.2 773.0 L481.2 776.0 L481.2 779.0 L481.1 782.0 L481.0 785.0 L480.9 788.0 L481.0 791.0 L481.0 794.0 L480.9 797.0 L480.9 800.0 L481.3 803.0 L481.4 806.0 L481.3 809.0 L481.2 812.0 L481.1 815.0 L481.2 818.0 L481.1 821.0 L481.0 824.0 L481.0 827.0 L481.0 830.0 L481.1 833.0 L481.1 836.0 L481.0 839.0 L481.1 842.0 L481.1 845.0 L481.3 848.0 L481.1 851.0 L481.1 854.0 L481.1 857.0 L481.1 860.0 L481.0 863.0 L481.0 866.0 L481.1 869.0 L481.1 872.0 L481.2 875.0 L481.1 878.0 L481.1 881.0 L481.1 884.0 L481.1 887.0 L481.0 890.0 L481.0 893.0 L481.1 896.0 L481.2 899.0 L481.1 902.0 L481.1 905.0 L481.2 908.0 L481.2 911.0 L481.2 914.0 L481.0 917.0 L481.0 920.0 L481.1 923.0 L481.1 926.0 L481.0 929.0 L481.0 932.0 L481.1 935.0 L481.2 938.0 L481.2 941.0 L481.1 944.0 L481.1 947.0 L481.1 950.0 L481.1 953.0 L481.0 956.0 L481.0 959.0 L481.1 962.0 L481.1 965.0 L481.1 968.0 L481.1 971.0 L481.1 973.0" stroke="rgb(168,168,168)" stroke-width="2.0"/>
<path d="M522.0 497.0 L522.1 500.0 L522.1 503.0 L522.0 506.0 L521.9 509.0 L522.1 512.0 L522.1 515.0 L522.1 518.0 L521.9 521.0 L521.9 524.0 L522.0 527.0 L522.0 530.0 L521.9 533.0 L521.9 536.0 L522.0 539.0 L522.1 542.0 L522.0 545.0 L521.8 548.0 L521.8 551.0 L521.8 554.0 L521.8 557.0 L521.7 560.0 L522.0 563.0 L522.1 566.0 L522.1 569.0 L522.0 572.0 L521.9 575.0 L521.9 578.0 L521.9 581.0 L522.1 584.0 L522.0 587.0 L521.9 590.0 L522.0 593.0 L522.0 596.0 L522.0 599.0 L522.0 602.0 L522.1 605.0 L522.1 608.0 L522.0 611.0 L521.9 614.0 L521.9 617.0 L521.9 620.0 L521.9 623.0 L521.8 626.0 L521.8 629.0 L521.9 632.0 L521.9 635.0 L521.9 638.0 L521.8 641.0 L521.9 644.0 L522.2 647.0 L522.1 650.0 L522.0 653.0 L521.9 656.0 L522.0 659.0 L522.0 662.0 L522.0 665.0 L522.0 668.0 L522.1 671.0 L522.1 674.0 L522.1 677.0 L521.9 680.0 L521.9 683.0 L521.9 686.0 L521.9 689.0 L521.8 692.0 L521.8 695.0 L521.9 698.0 L522.0 701.0 L521.9 704.0 L521.9 707.0 L521.9 710.0 L521.9 713.0 L521.9 716.0 L521.7 719.0 L521.7 722.0 L522.0 725.0 L522.0 728.0 L522.0 731.0 L522.0 734.0 L522.1 737.0 L522.1 740.0 L522.0 743.0 L521.9 746.0 L521.9 749.0 L521.9 752.0 L521.8 755.0 L521.7 758.0 L521.7 761.0 L522.1 764.0 L522.1 767.0 L522.1 770.0 L522.0 773.0 L522.0 776.0 L522.1 779.0 L522.0 782.0 L521.8 785.0 L521.8 788.0 L521.8 791.0 L521.8 794.0 L521.8 797.0 L521.8 800.0 L522.1 803.0 L522.2 806.0 L522.1 809.0 L522.0 812.0 L522.0 815.0 L522.0 818.0 L521.9 821.0 L521.8 824.0 L521.8 827.0 L521.9 830.0 L522.0 833.0 L521.9 836.0 L521.9 839.0 L521.9 842.0 L521.9 845.0 L522.1 848.0 L522.0 851.0 L521.9 854.0 L521.9 857.0 L521.9 860.0 L521.8 863.0 L521.8 866.0 L521.9 869.0 L521.9 872.0 L522.0 875.0 L521.9 878.0 L521.9 881.0 L522.0 884.0 L521.9 887.0 L521.8 890.0 L521.8 893.0 L521.9 896.0 L522.0 899.0 L522.0 902.0 L521.9 905.0 L522.0 908.0 L522.1 911.0 L522.0 914.0 L521.9 917.0 L521.8 920.0 L521.9 923.0 L521.9 926.0 L521.9 929.0 L521.9 932.0 L522.0 935.0 L522.1 938.0 L522.0 941.0 L521.9 944.0 L521.9 947.0 L522.0 950.0 L521.9 953.0 L521.8 956.0 L521.8 959.0 L521.9 962.0 L522.0 965.0 L522.0 968.0 L521.9 971.0 L522.0 973.0" stroke="rgb(169,169,169)" stroke-width="2.0"/>
<path d="M562.8 497.0 L562.9 500.0 L562.9 503.0 L562.8 506.0 L562.7 509.0 L563.0 512.0 L563.0 515.0 L562.9 518.0 L562.8 521.0 L562.7 524.0 L562.8 527.0 L562.8 530.0 L562.8 533.0 L562.8 536.0 L562.8 539.0 L562.9 542.0 L562.8 545.0 L562.7 548.0 L562.6 551.0 L562.7 554.0 L562.6 557.0 L562.5 560.0 L562.8 563.0 L562.9 566.0 L562.9 569.0 L562.9 572.0 L562.8 575.0 L562.8 578.0 L562.8 581.0 L562.9 584.0 L562.8 587.0 L562.8 590.0 L562.8 593.0 L562.9 596.0 L562.8 599.0 L562.8 602.0 L562.9 605.0 L563.0 608.0 L562.9 611.0 L562.8 614.0 L562.7 617.0 L562.8 620.0 L562.7 623.0 L562.6 626.0 L562.6 629.0 L562.7 632.0 L562.8 635.0 L562.7 638.0 L562.7 641.0 L562.7 644.0 L563.0 647.0 L562.9 650.0 L562.8 653.0 L562.8 656.0 L562.8 659.0 L562.9 662.0 L562.8 665.0 L562.8 668.0 L562.9 671.0 L563.0 674.0 L562.9 677.0 L562.8 680.0 L562.8 683.0 L562.8 686.0 L562.7 689.0 L562.6 692.0 L562.6 695.0 L562.7 698.0 L562.8 701.0 L562.8 704.0 L562.7 707.0 L562.7 710.0 L562.8 713.0 L562.7 716.0 L562.5 719.0 L562.5 722.0 L562.9 725.0 L562.9 728.0 L562.8 731.0 L562.8 734.0 L562.9 737.0 L563.0 740.0 L562.9 743.0 L562.7 746.0 L562.7 749.0 L562.7 752.0 L562.7 755.0 L562.5 758.0 L562.5 761.0 L562.9 764.0 L563.0 767.0 L562.9 770.0 L562.9 773.0 L562.9 776.0 L562.9 779.0 L562.8 782.0 L562.7 785.0 L562.6 788.0 L562.7 791.0 L562.7 794.0 L562.6 797.0 L562.6 800.0 L563.0 803.0 L563.1 806.0 L563.0 809.0 L562.9 812.0 L562.8 815.0 L562.8 818.0 L562.8 821.0 L562.7 824.0 L562.6 827.0 L562.7 830.0 L562.8 833.0 L562.7 836.0 L562.7 839.0 L562.7 842.0 L562.8 845.0 L563.0 848.0 L562.8 851.0 L562.7 854.0 L562.8 857.0 L562.8 860.0 L562.7 863.0 L562.6 866.0 L562.7 869.0 L562.8 872.0 L562.9 875.0 L562.8 878.0 L562.8 881.0 L562.8 884.0 L562.8 887.0 L562.7 890.0 L562.6 893.0 L562.8 896.0 L562.8 899.0 L562.8 902.0 L562.8 905.0 L562.9 908.0 L562.9 911.0 L562.8 914.0 L562.7 917.0 L562.7 920.0 L562.7 923.0 L562.8 926.0 L562.7 929.0 L562.7 932.0 L562.8 935.0 L562.9 938.0 L562.9 941.0 L562.8 944.0 L562.8 947.0 L562.8 950.0 L562.8 953.0 L562.7 956.0 L562.6 959.0 L562.8 962.0 L562.8 965.0 L562.8 968.0 L562.8 971.0 L562.8 973.0" stroke="rgb(168,168,168)" stroke-width="2.0"/>
<path d="M593.5 497.0 L593.5 500.0 L593.6 503.0 L593.4 506.0 L593.3 509.0 L593.6 512.0 L593.6 515.0 L593.5 518.0 L593.4 521.0 L593.4 524.0 L593.4 527.0 L593.5 530.0 L593.4 533.0 L593.4 536.0 L593.5 539.0 L593.5 542.0 L593.4 545.0 L593.3 548.0 L593.3 551.0 L593.3 554.0 L593.3 557.0 L593.1 560.0 L593.4 563.0 L593.5 566.0 L593.6 569.0 L593.5 572.0 L593.4 575.0 L593.4 578.0 L593.4 581.0 L593.6 584.0 L593.4 587.0 L593.4 590.0 L593.5 593.0 L593.5 596.0 L593.5 599.0 L593.4 602.0 L593.5 605.0 L593.6 608.0 L593.5 611.0 L593.4 614.0 L593.4 617.0 L593.4 620.0 L593.3 623.0 L593.2 626.0 L593.2 629.0 L593.3 632.0 L593.4 635.0 L593.4 638.0 L593.3 641.0 L593.3 644.0 L593.7 647.0 L593.6 650.0 L593.4 653.0 L593.4 656.0 L593.5 659.0 L593.5 662.0 L593.4 665.0 L593.4 668.0 L593.5 671.0 L593.6 674.0 L593.5 677.0 L593.4 680.0 L593.4 683.0 L593.4 686.0 L593.4 689.0 L593.3 692.0 L593.2 695.0 L593.4 698.0 L593.4 701.0 L593.4 704.0 L593.3 707.0 L593.4 710.0 L593.4 713.0 L593.3 716.0 L593.2 719.0 L593.1 722.0 L593.5 725.0 L593.5 728.0 L593.5 731.0 L593.4 734.0 L593.5 737.0 L593.6 740.0 L593.5 743.0 L593.4 746.0 L593.3 749.0 L593.4 752.0 L593.3 755.0 L593.2 758.0 L593.1 761.0 L593.5 764.0 L593.6 767.0 L593.6 770.0 L593.5 773.0 L593.5 776.0 L593.6 779.0 L593.5 782.0 L593.3 785.0 L593.2 788.0 L593.3 791.0 L593.3 794.0 L593.2 797.0 L593.2 800.0 L593.6 803.0 L593.7 806.0 L593.6 809.0 L593.5 812.0 L593.5 815.0 L593.5 818.0 L593.4 821.0 L593.3 824.0 L593.3 827.0 L593.4 830.0 L593.4 833.0 L593.4 836.0 L593.3 839.0 L593.4 842.0 L593.4 845.0 L593.6 848.0 L593.4 851.0 L593.4 854.0 L593.4 857.0 L593.4 860.0 L593.3 863.0 L593.3 866.0 L593.4 869.0 L593.4 872.0 L593.5 875.0 L593.4 878.0 L593.4 881.0 L593.4 884.0 L593.4 887.0 L593.3 890.0 L593.3 893.0 L593.4 896.0 L593.5 899.0 L593.4 902.0 L593.4 905.0 L593.5 908.0 L593.5 911.0 L593.5 914.0 L593.3 917.0 L593.3 920.0 L593.4 923.0 L593.4 926.0 L593.3 929.0 L593.3 932.0 L593.5 935.0 L593.6 938.0 L593.5 941.0 L593.4 944.0 L593.4 947.0 L593.5 950.0 L593.4 953.0 L593.3 956.0 L593.3 959.0 L593.4 962.0 L593.5 965.0 L593.4 968.0 L593.4 971.0 L593.5 973.0" stroke="rgb(169,169,169)" stroke-width="2.0"/>
<path d="M634.3 497.0 L634.4 500.0 L634.4 503.0 L634.3 506.0 L634.2 509.0 L634.4 512.0 L634.5 515.0 L634.4 518.0 L634.2 521.0 L634.2 524.0 L634.3 527.0 L634.3 530.0 L634.3 533.0 L634.2 536.0 L634.3 539.0 L634.4 542.0 L634.3 545.0 L634.1 548.0 L634.1 551.0 L634.1 554.0 L634.1 557.0 L634.0 560.0 L634.3 563.0 L634.4 566.0 L634.4 569.0 L634.3 572.0 L634.2 575.0 L634.2 578.0 L634.2 581.0 L634.4 584.0 L634.3 587.0 L634.2 590.0 L634.3 593.0 L634.4 596.0 L634.3 599.0 L634.3 602.0 L634.4 605.0 L634.4 608.0 L634.4 611.0 L634.2 614.0 L634.2 617.0 L634.2 620.0 L634.2 623.0 L634.1 626.0 L634.1 629.0 L634.2 632.0 L634.3 635.0 L634.2 638.0 L634.1 641.0 L634.2 644.0 L634.5 647.0 L634.4 650.0 L634.3 653.0 L634.2 656.0 L634.3 659.0 L634.3 662.0 L634.3 665.0 L634.3 668.0 L634.4 671.0 L634.5 674.0 L634.4 677.0 L634.2 680.0 L634.2 683.0 L634.3 686.0 L634.2 689.0 L634.1 692.0 L634.1 695.0 L634.2 698.0 L634.3 701.0 L634.2 704.0 L634.2 707.0 L634.2 710.0 L634.2 713.0 L634.2 716.0 L634.0 719.0 L634.0 722.0 L634.4 725.0 L634.4 728.0 L634.3 731.0 L634.3 734.0 L634.4 737.0 L634.4 740.0 L634.3 743.0 L634.2 746.0 L634.2 749.0 L634.2 752.0 L634.1 755.0 L634.0 758.0 L634.0 761.0 L634.4 764.0 L634.5 767.0 L634.4 770.0 L634.3 773.0 L634.4 776.0 L634.4 779.0 L634.3 782.0 L634.1 785.0 L634.1 788.0 L634.1 791.0 L634.1 794.0 L634.1 797.0 L634.1 800.0 L634.5 803.0 L634.5 806.0 L634.5 809.0 L634.3 812.0 L634.3 815.0 L634.3 818.0 L634.2 821.0 L634.1 824.0 L634.1 827.0 L634.2 830.0 L634.3 833.0 L634.2 836.0 L634.2 839.0 L634.2 842.0 L634.2 845.0 L634.4 848.0 L634.3 851.0 L634.2 854.0 L634.2 857.0 L634.2 860.0 L634.1 863.0 L634.1 866.0 L634.2 869.0 L634.3 872.0 L634.3 875.0 L634.2 878.0 L634.2 881.0 L634.3 884.0 L634.2 887.0 L634.1 890.0 L634.1 893.0 L634.2 896.0 L634.3 899.0 L634.3 902.0 L634.3 905.0 L634.3 908.0 L634.4 911.0 L634.3 914.0 L634.2 917.0 L634.1 920.0 L634.2 923.0 L634.2 926.0 L634.2 929.0 L634.2 932.0 L634.3 935.0 L634.4 938.0 L634.3 941.0 L634.3 944.0 L634.3 947.0 L634.3 950.0 L634.2 953.0 L634.1 956.0 L634.1 959.0 L634.2 962.0 L634.3 965.0 L634.3 968.0 L634.3 971.0 L634.3 973.0" stroke="rgb(175,175,175)" stroke-width="2.0"/>
<path d="M654.7 497.0 L654.8 500.0 L654.8 503.0 L654.7 506.0 L654.6 509.0 L654.9 512.0 L654.9 515.0 L654.8 518.0 L654.6 521.0 L654.6 524.0 L654.7 527.0 L654.7 530.0 L654.7 533.0 L654.7 536.0 L654.7 539.0 L654.8 542.0 L654.7 545.0 L654.6 548.0 L654.5 551.0 L654.5 554.0 L654.5 557.0 L654.4 560.0 L654.7 563.0 L654.8 566.0 L654.8 569.0 L654.8 572.0 L654.7 575.0 L654.7 578.0 L654.6 581.0 L654.8 584.0 L654.7 587.0 L654.7 590.0 L654.7 593.0 L654.8 596.0 L654.7 599.0 L654.7 602.0 L654.8 605.0 L654.9 608.0 L654.8 611.0 L654.6 614.0 L654.6 617.0 L654.6 620.0 L654.6 623.0 L654.5 626.0 L654.5 629.0 L654.6 632.0 L654.7 635.0 L654.6 638.0 L654.6 641.0 L654.6 644.0 L654.9 647.0 L654.8 650.0 L654.7 653.0 L654.7 656.0 L654.7 659.0 L654.8 662.0 L654.7 665.0 L654.7 668.0 L654.8 671.0 L654.9 674.0 L654.8 677.0 L654.7 680.0 L654.6 683.0 L654.7 686.0 L654.6 689.0 L654.5 692.0 L654.5 695.0 L654.6 698.0 L654.7 701.0 L654.7 704.0 L654.6 707.0 L654.6 710.0 L654.7 713.0 L654.6 716.0 L654.4 719.0 L654.4 722.0 L654.8 725.0 L654.8 728.0 L654.7 731.0 L654.7 734.0 L654.8 737.0 L654.9 740.0 L654.8 743.0 L654.6 746.0 L654.6 749.0 L654.6 752.0 L654.5 755.0 L654.4 758.0 L654.4 761.0 L654.8 764.0 L654.9 767.0 L654.8 770.0 L654.8 773.0 L654.8 776.0 L654.8 779.0 L654.7 782.0 L654.5 785.0 L654.5 788.0 L654.6 791.0 L654.6 794.0 L654.5 797.0 L654.5 800.0 L654.9 803.0 L655.0 806.0 L654.9 809.0 L654.7 812.0 L654.7 815.0 L654.7 818.0 L654.7 821.0 L654.5 824.0 L654.5 827.0 L654.6 830.0 L654.7 833.0 L654.6 836.0 L654.6 839.0 L654.6 842.0 L654.6 845.0 L654.9 848.0 L654.7 851.0 L654.6 854.0 L654.7 857.0 L654.6 860.0 L654.6 863.0 L654.5 866.0 L654.6 869.0 L654.7 872.0 L654.8 875.0 L654.7 878.0 L654.7 881.0 L654.7 884.0 L654.7 887.0 L654.5 890.0 L654.5 893.0 L654.6 896.0 L654.7 899.0 L654.7 902.0 L654.7 905.0 L654.7 908.0 L654.8 911.0 L654.7 914.0 L654.6 917.0 L654.6 920.0 L654.6 923.0 L654.6 926.0 L654.6 929.0 L654.6 932.0 L654.7 935.0 L654.8 938.0 L654.8 941.0 L654.7 944.0 L654.7 947.0 L654.7 950.0 L654.7 953.0 L654.5 956.0 L654.5 959.0 L654.6 962.0 L654.7 965.0 L654.7 968.0 L654.7 971.0 L654.7 973.0" stroke="rgb(173,173,173)" stroke-width="2.0"/>
<path d="M675.1 497.0 L675.2 500.0 L675.2 503.0 L675.1 506.0 L675.0 509.0 L675.3 512.0 L675.3 515.0 L675.2 518.0 L675.1 521.0 L675.0 524.0 L675.1 527.0 L675.2 530.0 L675.1 533.0 L675.1 536.0 L675.2 539.0 L675.2 542.0 L675.1 545.0 L675.0 548.0 L674.9 551.0 L675.0 554.0 L674.9 557.0 L674.8 560.0 L675.1 563.0 L675.2 566.0 L675.3 569.0 L675.2 572.0 L675.1 575.0 L675.1 578.0 L675.1 581.0 L675.3 584.0 L675.1 587.0 L675.1 590.0 L675.2 593.0 L675.2 596.0 L675.1 599.0 L675.1 602.0 L675.2 605.0 L675.3 608.0 L675.2 611.0 L675.1 614.0 L675.0 617.0 L675.1 620.0 L675.0 623.0 L674.9 626.0 L674.9 629.0 L675.0 632.0 L675.1 635.0 L675.0 638.0 L675.0 641.0 L675.0 644.0 L675.4 647.0 L675.3 650.0 L675.1 653.0 L675.1 656.0 L675.2 659.0 L675.2 662.0 L675.1 665.0 L675.1 668.0 L675.2 671.0 L675.3 674.0 L675.2 677.0 L675.1 680.0 L675.1 683.0 L675.1 686.0 L675.0 689.0 L674.9 692.0 L674.9 695.0 L675.0 698.0 L675.1 701.0 L675.1 704.0 L675.0 707.0 L675.1 710.0 L675.1 713.0 L675.0 716.0 L674.8 719.0 L674.8 722.0 L675.2 725.0 L675.2 728.0 L675.1 731.0 L675.1 734.0 L675.2 737.0 L675.3 740.0 L675.2 743.0 L675.0 746.0 L675.0 749.0 L675.0 752.0 L675.0 755.0 L674.8 758.0 L674.8 761.0 L675.2 764.0 L675.3 767.0 L675.2 770.0 L675.2 773.0 L675.2 776.0 L675.2 779.0 L675.1 782.0 L675.0 785.0 L674.9 788.0 L675.0 791.0 L675.0 794.0 L674.9 797.0 L674.9 800.0 L675.3 803.0 L675.4 806.0 L675.3 809.0 L675.2 812.0 L675.1 815.0 L675.2 818.0 L675.1 821.0 L675.0 824.0 L674.9 827.0 L675.0 830.0 L675.1 833.0 L675.0 836.0 L675.0 839.0 L675.0 842.0 L675.1 845.0 L675.3 848.0 L675.1 851.0 L675.0 854.0 L675.1 857.0 L675.1 860.0 L675.0 863.0 L674.9 866.0 L675.0 869.0 L675.1 872.0 L675.2 875.0 L675.1 878.0 L675.1 881.0 L675.1 884.0 L675.1 887.0 L675.0 890.0 L674.9 893.0 L675.1 896.0 L675.2 899.0 L675.1 902.0 L675.1 905.0 L675.2 908.0 L675.2 911.0 L675.2 914.0 L675.0 917.0 L675.0 920.0 L675.0 923.0 L675.1 926.0 L675.0 929.0 L675.0 932.0 L675.1 935.0 L675.2 938.0 L675.2 941.0 L675.1 944.0 L675.1 947.0 L675.1 950.0 L675.1 953.0 L675.0 956.0 L674.9 959.0 L675.1 962.0 L675.1 965.0 L675.1 968.0 L675.1 971.0 L675.1 973.0" stroke="rgb(173,173,173)" stroke-width="2.0"/>
<g filter="url(#sb2)"><rect x="801.0" y="497.0" width="33.0" height="371.0" fill="rgb(164,164,164)" fill-opacity="0.80"/><rect x="843.0" y="497.0" width="23.0" height="371.0" fill="rgb(162,162,162)" fill-opacity="0.80"/></g>
<path d="M695.7 497.0 L695.8 500.0 L695.9 503.0 L695.6 506.0 L695.3 509.0 L696.0 512.0 L696.1 515.0 L695.8 518.0 L695.4 521.0 L695.4 524.0 L695.6 527.0 L695.7 530.0 L695.5 533.0 L695.5 536.0 L695.7 539.0 L695.8 542.0 L695.6 545.0 L695.2 548.0 L695.1 551.0 L695.2 554.0 L695.1 557.0 L694.8 560.0 L695.6 563.0 L695.8 566.0 L696.0 569.0 L695.7 572.0 L695.5 575.0 L695.5 578.0 L695.5 581.0 L696.0 584.0 L695.6 587.0 L695.5 590.0 L695.7 593.0 L695.8 596.0 L695.6 599.0 L695.6 602.0 L695.9 605.0 L696.0 608.0 L695.8 611.0 L695.4 614.0 L695.4 617.0 L695.4 620.0 L695.3 623.0 L695.0 626.0 L695.0 629.0 L695.3 632.0 L695.5 635.0 L695.4 638.0 L695.2 641.0 L695.3 644.0 L696.2 647.0 L695.9 650.0 L695.6 653.0 L695.5 656.0 L695.7 659.0 L695.8 662.0 L695.6 665.0 L695.6 668.0 L695.9 671.0 L696.0 674.0 L695.8 677.0 L695.5 680.0 L695.4 683.0 L695.5 686.0 L695.4 689.0 L695.1 692.0 L695.1 695.0 L695.4 698.0 L695.6 701.0 L695.5 704.0 L695.3 707.0 L695.4 710.0 L695.5 713.0 L695.3 716.0 L694.9 719.0 L694.8 722.0 L695.8 725.0 L695.8 728.0 L695.6 731.0 L695.6 734.0 L695.8 737.0 L696.0 740.0 L695.8 743.0 L695.4 746.0 L695.3 749.0 L695.4 752.0 L695.2 755.0 L694.8 758.0 L694.8 761.0 L695.9 764.0 L696.0 767.0 L695.9 770.0 L695.7 773.0 L695.8 776.0 L695.9 779.0 L695.6 782.0 L695.2 785.0 L695.1 788.0 L695.2 791.0 L695.2 794.0 L695.0 797.0 L695.0 800.0 L696.1 803.0 L696.3 806.0 L696.0 809.0 L695.7 812.0 L695.6 815.0 L695.7 818.0 L695.5 821.0 L695.2 824.0 L695.1 827.0 L695.4 830.0 L695.5 833.0 L695.4 836.0 L695.3 839.0 L695.4 842.0 L695.5 845.0 L696.0 848.0 L695.5 851.0 L695.4 854.0 L695.5 857.0 L695.4 860.0 L695.2 863.0 L695.1 866.0 L695.4 869.0 L695.5 872.0 L695.8 875.0 L695.5 878.0 L695.5 881.0 L695.6 884.0 L695.5 887.0 L695.2 890.0 L695.1 891.0" stroke="rgb(185,185,185)" stroke-width="2.2"/>
<path d="M705.9 497.0 L706.0 500.0 L706.1 503.0 L705.8 506.0 L705.5 509.0 L706.2 512.0 L706.3 515.0 L706.0 518.0 L705.6 521.0 L705.6 524.0 L705.8 527.0 L705.9 530.0 L705.7 533.0 L705.7 536.0 L705.9 539.0 L706.0 542.0 L705.8 545.0 L705.4 548.0 L705.3 551.0 L705.4 554.0 L705.3 557.0 L705.0 560.0 L705.8 563.0 L706.0 566.0 L706.2 569.0 L706.0 572.0 L705.7 575.0 L705.7 578.0 L705.7 581.0 L706.2 584.0 L705.8 587.0 L705.7 590.0 L705.9 593.0 L706.0 596.0 L705.9 599.0 L705.8 602.0 L706.1 605.0 L706.2 608.0 L706.0 611.0 L705.6 614.0 L705.6 617.0 L705.6 620.0 L705.5 623.0 L705.2 626.0 L705.2 629.0 L705.5 632.0 L705.7 635.0 L705.6 638.0 L705.4 641.0 L705.5 644.0 L706.4 647.0 L706.2 650.0 L705.8 653.0 L705.7 656.0 L705.9 659.0 L706.0 662.0 L705.8 665.0 L705.8 668.0 L706.1 671.0 L706.3 674.0 L706.0 677.0 L705.7 680.0 L705.6 683.0 L705.7 686.0 L705.6 689.0 L705.3 692.0 L705.3 695.0 L705.6 698.0 L705.8 701.0 L705.7 704.0 L705.5 707.0 L705.6 710.0 L705.7 713.0 L705.5 716.0 L705.1 719.0 L705.0 722.0 L706.0 725.0 L706.0 728.0 L705.8 731.0 L705.8 734.0 L706.0 737.0 L706.2 740.0 L706.0 743.0 L705.6 746.0 L705.5 749.0 L705.6 752.0 L705.4 755.0 L705.0 758.0 L705.0 761.0 L706.1 764.0 L706.3 767.0 L706.1 770.0 L705.9 773.0 L706.0 776.0 L706.1 779.0 L705.8 782.0 L705.4 785.0 L705.3 788.0 L705.4 791.0 L705.4 794.0 L705.2 797.0 L705.2 800.0 L706.3 803.0 L706.5 806.0 L706.3 809.0 L705.9 812.0 L705.8 815.0 L705.9 818.0 L705.7 821.0 L705.4 824.0 L705.3 827.0 L705.6 830.0 L705.7 833.0 L705.6 836.0 L705.5 839.0 L705.6 842.0 L705.7 845.0 L706.2 848.0 L705.8 851.0 L705.6 854.0 L705.7 857.0 L705.7 860.0 L705.4 863.0 L705.3 866.0 L705.6 869.0 L705.7 872.0 L706.0 875.0 L705.7 878.0 L705.7 881.0 L705.8 884.0 L705.7 887.0 L705.4 890.0 L705.3 891.0" stroke="rgb(183,183,183)" stroke-width="2.2"/>
<path d="M716.1 497.0 L716.3 500.0 L716.3 503.0 L716.0 506.0 L715.7 509.0 L716.5 512.0 L716.5 515.0 L716.2 518.0 L715.9 521.0 L715.8 524.0 L716.0 527.0 L716.1 530.0 L715.9 533.0 L715.9 536.0 L716.1 539.0 L716.3 542.0 L716.0 545.0 L715.6 548.0 L715.5 551.0 L715.6 554.0 L715.5 557.0 L715.2 560.0 L716.0 563.0 L716.3 566.0 L716.4 569.0 L716.2 572.0 L715.9 575.0 L715.9 578.0 L715.9 581.0 L716.4 584.0 L716.0 587.0 L715.9 590.0 L716.1 593.0 L716.2 596.0 L716.1 599.0 L716.0 602.0 L716.3 605.0 L716.4 608.0 L716.2 611.0 L715.9 614.0 L715.8 617.0 L715.9 620.0 L715.7 623.0 L715.4 626.0 L715.4 629.0 L715.7 632.0 L715.9 635.0 L715.8 638.0 L715.6 641.0 L715.7 644.0 L716.6 647.0 L716.4 650.0 L716.0 653.0 L715.9 656.0 L716.1 659.0 L716.2 662.0 L716.0 665.0 L716.0 668.0 L716.3 671.0 L716.5 674.0 L716.3 677.0 L715.9 680.0 L715.8 683.0 L715.9 686.0 L715.8 689.0 L715.5 692.0 L715.5 695.0 L715.8 698.0 L716.0 701.0 L715.9 704.0 L715.7 707.0 L715.8 710.0 L715.9 713.0 L715.7 716.0 L715.3 719.0 L715.2 722.0 L716.2 725.0 L716.2 728.0 L716.1 731.0 L716.0 734.0 L716.3 737.0 L716.4 740.0 L716.2 743.0 L715.8 746.0 L715.7 749.0 L715.8 752.0 L715.6 755.0 L715.2 758.0 L715.2 761.0 L716.3 764.0 L716.5 767.0 L716.3 770.0 L716.2 773.0 L716.2 776.0 L716.3 779.0 L716.0 782.0 L715.6 785.0 L715.5 788.0 L715.6 791.0 L715.6 794.0 L715.4 797.0 L715.4 800.0 L716.5 803.0 L716.7 806.0 L716.5 809.0 L716.1 812.0 L716.1 815.0 L716.1 818.0 L715.9 821.0 L715.6 824.0 L715.5 827.0 L715.8 830.0 L716.0 833.0 L715.8 836.0 L715.7 839.0 L715.8 842.0 L715.9 845.0 L716.4 848.0 L716.0 851.0 L715.8 854.0 L715.9 857.0 L715.9 860.0 L715.6 863.0 L715.6 866.0 L715.8 869.0 L715.9 872.0 L716.2 875.0 L715.9 878.0 L715.9 881.0 L716.0 884.0 L715.9 887.0 L715.6 890.0 L715.5 891.0" stroke="rgb(185,185,185)" stroke-width="2.2"/>
<path d="M726.3 497.0 L726.5 500.0 L726.5 503.0 L726.2 506.0 L725.9 509.0 L726.7 512.0 L726.7 515.0 L726.5 518.0 L726.1 521.0 L726.0 524.0 L726.2 527.0 L726.3 530.0 L726.1 533.0 L726.1 536.0 L726.3 539.0 L726.5 542.0 L726.2 545.0 L725.8 548.0 L725.7 551.0 L725.8 554.0 L725.7 557.0 L725.4 560.0 L726.2 563.0 L726.5 566.0 L726.6 569.0 L726.4 572.0 L726.1 575.0 L726.1 578.0 L726.1 581.0 L726.6 584.0 L726.2 587.0 L726.1 590.0 L726.3 593.0 L726.4 596.0 L726.3 599.0 L726.2 602.0 L726.5 605.0 L726.7 608.0 L726.4 611.0 L726.1 614.0 L726.0 617.0 L726.1 620.0 L725.9 623.0 L725.7 626.0 L725.6 629.0 L725.9 632.0 L726.1 635.0 L726.0 638.0 L725.8 641.0 L725.9 644.0 L726.8 647.0 L726.6 650.0 L726.2 653.0 L726.1 656.0 L726.3 659.0 L726.4 662.0 L726.2 665.0 L726.2 668.0 L726.5 671.0 L726.7 674.0 L726.5 677.0 L726.1 680.0 L726.1 683.0 L726.1 686.0 L726.0 689.0 L725.7 692.0 L725.7 695.0 L726.0 698.0 L726.2 701.0 L726.1 704.0 L725.9 707.0 L726.0 710.0 L726.1 713.0 L725.9 716.0 L725.5 719.0 L725.4 722.0 L726.4 725.0 L726.5 728.0 L726.3 731.0 L726.2 734.0 L726.5 737.0 L726.6 740.0 L726.4 743.0 L726.0 746.0 L725.9 749.0 L726.0 752.0 L725.8 755.0 L725.5 758.0 L725.4 761.0 L726.5 764.0" stroke="rgb(183,183,183)" stroke-width="2.2"/>
<path d="M726.5 764.0 L726.7 767.0 L726.5 770.0 L726.4 773.0 L726.5 776.0 L726.5 779.0 L726.3 782.0 L725.8 785.0 L725.7 788.0 L725.8 791.0 L725.9 794.0 L725.7 797.0 L725.6 800.0 L726.7 803.0 L726.9 806.0 L726.7 809.0 L726.3 812.0 L726.3 815.0 L726.3 818.0 L726.1 821.0 L725.8 824.0 L725.7 827.0 L726.0 830.0 L726.2 833.0 L726.0 836.0 L725.9 839.0 L726.0 842.0 L726.1 845.0 L726.6 848.0 L726.2 851.0 L726.0 854.0 L726.1 857.0 L726.1 860.0 L725.8 863.0 L725.8 866.0 L726.0 869.0 L726.2 872.0 L726.4 875.0 L726.1 878.0 L726.1 881.0 L726.2 884.0 L726.1 887.0 L725.8 890.0 L725.7 892.0" stroke="rgb(192,192,192)" stroke-width="2.2"/>
<path d="M736.5 497.0 L736.7 500.0 L736.7 503.0 L736.4 506.0 L736.1 509.0 L736.9 512.0 L736.9 515.0 L736.7 518.0 L736.3 521.0 L736.2 524.0 L736.4 527.0 L736.5 530.0 L736.4 533.0 L736.3 536.0 L736.5 539.0 L736.7 542.0 L736.4 545.0 L736.0 548.0 L735.9 551.0 L736.0 554.0 L735.9 557.0 L735.6 560.0 L736.4 563.0 L736.7 566.0 L736.8 569.0 L736.6 572.0 L736.3 575.0 L736.3 578.0 L736.3 581.0 L736.8 584.0 L736.4 587.0 L736.3 590.0 L736.5 593.0 L736.6 596.0 L736.5 599.0 L736.5 602.0 L736.7 605.0 L736.9 608.0 L736.6 611.0 L736.3 614.0 L736.2 617.0 L736.3 620.0 L736.1 623.0 L735.9 626.0 L735.8 629.0 L736.2 632.0 L736.4 635.0 L736.2 638.0 L736.0 641.0 L736.1 644.0 L737.0 647.0 L736.8 650.0 L736.4 653.0 L736.3 656.0 L736.5 659.0 L736.6 662.0 L736.5 665.0 L736.4 668.0 L736.7 671.0 L736.9 674.0 L736.7 677.0 L736.3 680.0 L736.3 683.0 L736.4 686.0 L736.2 689.0 L735.9 692.0 L735.9 695.0 L736.2 698.0 L736.4 701.0 L736.3 704.0 L736.2 707.0 L736.3 710.0 L736.3 713.0 L736.1 716.0 L735.7 719.0 L735.6 722.0 L736.6 725.0 L736.7 728.0 L736.5 731.0 L736.4 734.0 L736.7 737.0 L736.8 740.0 L736.6 743.0 L736.2 746.0 L736.1 749.0 L736.2 752.0 L736.0 755.0 L735.7 758.0 L735.6 761.0 L736.7 764.0 L736.9 767.0 L736.8 770.0 L736.6 773.0 L736.7 776.0 L736.7 779.0 L736.5 782.0 L736.0 785.0 L735.9 788.0 L736.0 791.0 L736.1 794.0 L735.9 797.0 L735.8 800.0 L736.9 803.0 L737.1 806.0 L736.9 809.0 L736.6 812.0 L736.5 815.0 L736.5 818.0 L736.3 821.0 L736.0 824.0 L735.9 827.0 L736.2 830.0 L736.4 833.0 L736.2 836.0 L736.1 839.0 L736.2 842.0 L736.3 845.0 L736.8 848.0 L736.4 851.0 L736.2 854.0 L736.3 857.0 L736.3 860.0 L736.0 863.0 L736.0 866.0 L736.2 869.0 L736.4 872.0 L736.6 875.0 L736.3 878.0 L736.3 881.0 L736.4 884.0 L736.3 887.0 L736.0 890.0 L735.9 891.0" stroke="rgb(182,182,182)" stroke-width="2.2"/>
<path d="M746.7 497.0 L746.9 500.0 L747.0 503.0 L746.7 506.0 L746.3 509.0 L747.1 512.0 L747.2 515.0 L746.9 518.0 L746.5 521.0 L746.4 524.0 L746.6 527.0 L746.7 530.0 L746.6 533.0 L746.5 536.0 L746.7 539.0 L746.9 542.0 L746.6 545.0 L746.3 548.0 L746.2 551.0 L746.2 554.0 L746.1 557.0 L745.8 560.0 L746.6 563.0 L746.9 566.0 L747.0 569.0 L746.8 572.0 L746.5 575.0 L746.5 578.0 L746.5 581.0 L747.0 584.0 L746.6 587.0 L746.5 590.0 L746.8 593.0 L746.8 596.0 L746.7 599.0 L746.7 602.0 L746.9 605.0 L747.1 608.0 L746.9 611.0 L746.5 614.0 L746.4 617.0 L746.5 620.0 L746.4 623.0 L746.1 626.0 L746.0 629.0 L746.4 632.0 L746.6 635.0 L746.4 638.0 L746.2 641.0 L746.3 644.0 L747.3 647.0 L747.0 650.0 L746.6 653.0 L746.5 656.0 L746.7 659.0 L746.8 662.0 L746.7 665.0 L746.6 668.0 L746.9 671.0 L747.1 674.0 L746.9 677.0 L746.6 680.0 L746.5 683.0 L746.6 686.0 L746.4 689.0 L746.1 692.0 L746.1 695.0 L746.4 698.0 L746.6 701.0 L746.5 704.0 L746.4 707.0 L746.5 710.0 L746.6 713.0 L746.3 716.0 L745.9 719.0 L745.8 722.0 L746.8 725.0 L746.9 728.0 L746.7 731.0 L746.6 734.0 L746.9 737.0 L747.1 740.0 L746.8 743.0 L746.4 746.0 L746.3 749.0 L746.4 752.0 L746.2 755.0 L745.9 758.0 L745.8 761.0 L746.9 764.0 L747.1 767.0 L747.0 770.0 L746.8 773.0 L746.9 776.0 L747.0 779.0 L746.7 782.0 L746.2 785.0 L746.1 788.0 L746.2 791.0 L746.3 794.0 L746.1 797.0 L746.0 800.0 L747.1 803.0 L747.3 806.0 L747.1 809.0 L746.8 812.0 L746.7 815.0 L746.7 818.0 L746.6 821.0 L746.2 824.0 L746.1 827.0 L746.4 830.0 L746.6 833.0 L746.4 836.0 L746.3 839.0 L746.4 842.0 L746.5 845.0 L747.1 848.0 L746.6 851.0 L746.4 854.0 L746.5 857.0 L746.5 860.0 L746.3 863.0 L746.2 866.0 L746.4 869.0 L746.6 872.0 L746.8 875.0 L746.6 878.0 L746.5 881.0 L746.7 884.0 L746.5 887.0 L746.2 890.0 L746.1 891.0" stroke="rgb(181,181,181)" stroke-width="2.2"/>
<path d="M756.9 497.0 L757.1 500.0 L757.2 503.0 L756.9 506.0 L756.5 509.0 L757.3 512.0 L757.4 515.0 L757.1 518.0 L756.7 521.0 L756.6 524.0 L756.8 527.0 L756.9 530.0 L756.8 533.0 L756.7 536.0 L757.0 539.0 L757.1 542.0 L756.8 545.0 L756.5 548.0 L756.4 551.0 L756.4 554.0 L756.3 557.0 L756.0 560.0 L756.9 563.0 L757.1 566.0 L757.2 569.0 L757.0 572.0 L756.7 575.0 L756.7 578.0 L756.7 581.0 L757.2 584.0 L756.8 587.0 L756.7 590.0 L757.0 593.0 L757.1 596.0 L756.9 599.0 L756.9 602.0 L757.1 605.0 L757.3 608.0 L757.1 611.0 L756.7 614.0 L756.6 617.0 L756.7 620.0 L756.6 623.0 L756.3 626.0 L756.3 629.0 L756.6 632.0 L756.8 635.0 L756.6 638.0 L756.5 641.0 L756.5 644.0 L757.5 647.0 L757.2 650.0 L756.8 653.0 L756.7 656.0 L756.9 659.0 L757.0 662.0 L756.9 665.0 L756.9 668.0 L757.1 671.0 L757.3 674.0 L757.1 677.0 L756.8 680.0 L756.7 683.0 L756.8 686.0 L756.6 689.0 L756.3 692.0 L756.3 695.0 L756.6 698.0 L756.9 701.0 L756.7 704.0 L756.6 707.0 L756.7 710.0 L756.8 713.0 L756.5 716.0 L756.1 719.0 L756.0 722.0 L757.1 725.0 L757.1 728.0 L756.9 731.0 L756.8 734.0 L757.1 737.0 L757.3 740.0 L757.0 743.0 L756.7 746.0 L756.6 749.0 L756.6 752.0 L756.4 755.0 L756.1 758.0 L756.0 761.0 L757.1 764.0 L757.3 767.0 L757.2 770.0 L757.0 773.0 L757.1 776.0 L757.2 779.0 L756.9 782.0 L756.4 785.0 L756.3 788.0 L756.5 791.0 L756.5 794.0 L756.3 797.0 L756.2 800.0 L757.4 803.0 L757.5 806.0 L757.3 809.0 L757.0 812.0 L756.9 815.0 L757.0 818.0 L756.8 821.0 L756.4 824.0 L756.3 827.0 L756.6 830.0 L756.8 833.0 L756.7 836.0 L756.5 839.0 L756.6 842.0 L756.7 845.0 L757.3 848.0 L756.8 851.0 L756.6 854.0 L756.7 857.0 L756.7 860.0 L756.5 863.0 L756.4 866.0 L756.6 869.0 L756.8 872.0 L757.0 875.0 L756.8 878.0 L756.8 881.0 L756.9 884.0 L756.7 887.0 L756.4 890.0 L756.4 891.0" stroke="rgb(180,180,180)" stroke-width="2.2"/>
<path d="M767.1 497.0 L767.3 500.0 L767.4 503.0 L767.1 506.0 L766.7 509.0 L767.5 512.0 L767.6 515.0 L767.3 518.0 L766.9 521.0 L766.8 524.0 L767.0 527.0 L767.1 530.0 L767.0 533.0 L766.9 536.0 L767.2 539.0 L767.3 542.0 L767.1 545.0 L766.7 548.0 L766.6 551.0 L766.7 554.0 L766.5 557.0 L766.2 560.0 L767.1 563.0 L767.3 566.0 L767.5 569.0 L767.2 572.0 L766.9 575.0 L766.9 578.0 L766.9 581.0 L767.5 584.0 L767.0 587.0 L767.0 590.0 L767.2 593.0 L767.3 596.0 L767.1 599.0 L767.1 602.0 L767.3 605.0 L767.5 608.0 L767.3 611.0 L766.9 614.0 L766.8 617.0 L766.9 620.0 L766.8 623.0 L766.5 626.0 L766.5 629.0 L766.8 632.0 L767.0 635.0 L766.8 638.0 L766.7 641.0 L766.7 644.0 L767.7 647.0 L767.4 650.0 L767.0 653.0 L766.9 656.0 L767.2 659.0 L767.2 662.0 L767.1 665.0 L767.1 668.0 L767.3 671.0 L767.5 674.0 L767.3 677.0 L767.0 680.0 L766.9 683.0 L767.0 686.0 L766.8 689.0 L766.5 692.0 L766.5 695.0 L766.8 698.0 L767.1 701.0 L766.9 704.0 L766.8 707.0 L766.9 710.0 L767.0 713.0 L766.7 716.0 L766.3 719.0 L766.2 722.0 L767.3 725.0 L767.3 728.0 L767.1 731.0 L767.1 734.0 L767.3 737.0 L767.5 740.0 L767.2 743.0 L766.9 746.0 L766.8 749.0 L766.8 752.0 L766.6 755.0 L766.3 758.0 L766.2 761.0 L767.4 764.0 L767.5 767.0 L767.4 770.0 L767.2 773.0 L767.3 776.0 L767.4 779.0 L767.1 782.0 L766.6 785.0 L766.5 788.0 L766.7 791.0 L766.7 794.0 L766.5 797.0 L766.4 800.0 L767.6 803.0 L767.8 806.0 L767.5 809.0 L767.2 812.0 L767.1 815.0 L767.2 818.0 L767.0 821.0 L766.6 824.0 L766.5 827.0 L766.8 830.0 L767.0 833.0 L766.9 836.0 L766.7 839.0 L766.8 842.0 L766.9 845.0 L767.5 848.0 L767.0 851.0 L766.8 854.0 L766.9 857.0 L766.9 860.0 L766.7 863.0 L766.6 866.0 L766.8 869.0 L767.0 872.0 L767.4 873.0" stroke="rgb(173,173,173)" stroke-width="1.8"/>
<path d="M777.3 497.0 L777.5 500.0 L777.6 503.0 L777.3 506.0 L776.9 509.0 L777.7 512.0 L777.8 515.0 L777.5 518.0 L777.1 521.0 L777.0 524.0 L777.3 527.0 L777.4 530.0 L777.2 533.0 L777.1 536.0 L777.4 539.0 L777.5 542.0 L777.3 545.0 L776.9 548.0 L776.8 551.0 L776.9 554.0 L776.7 557.0 L776.4 560.0 L777.3 563.0 L777.5 566.0 L777.7 569.0 L777.4 572.0 L777.2 575.0 L777.1 578.0 L777.1 581.0 L777.7 584.0 L777.3 587.0 L777.2 590.0 L777.4 593.0 L777.5 596.0 L777.3 599.0 L777.3 602.0 L777.6 605.0 L777.7 608.0 L777.5 611.0 L777.1 614.0 L777.0 617.0 L777.1 620.0 L777.0 623.0 L776.7 626.0 L776.7 629.0 L777.0 632.0 L777.2 635.0 L777.1 638.0 L776.9 641.0 L776.9 644.0 L777.9 647.0 L777.6 650.0 L777.2 653.0 L777.1 656.0 L777.4 659.0 L777.5 662.0 L777.3 665.0 L777.3 668.0 L777.6 671.0 L777.8 674.0 L777.5 677.0 L777.2 680.0 L777.1 683.0 L777.2 686.0 L777.1 689.0 L776.8 692.0 L776.7 695.0 L777.1 698.0 L777.3 701.0 L777.1 704.0 L777.0 707.0 L777.1 710.0 L777.2 713.0 L776.9 716.0 L776.5 719.0 L776.4 722.0 L777.5 725.0 L777.5 728.0 L777.3 731.0 L777.3 734.0 L777.5 737.0 L777.7 740.0 L777.5 743.0 L777.1 746.0 L777.0 749.0 L777.0 752.0 L776.8 755.0 L776.5 758.0 L776.4 761.0 L777.6 764.0 L777.8 767.0 L777.6 770.0 L777.4 773.0 L777.5 776.0 L777.6 779.0 L777.3 782.0 L776.9 785.0 L776.7 788.0 L776.9 791.0 L776.9 794.0 L776.7 797.0 L776.6 800.0 L777.8 803.0 L778.0 806.0 L777.8 809.0 L777.4 812.0 L777.3 815.0 L777.4 818.0 L777.2 821.0 L776.8 824.0 L776.8 827.0 L777.0 830.0 L777.2 833.0 L777.1 836.0 L776.9 839.0 L777.0 842.0 L777.1 845.0 L777.7 848.0 L777.2 851.0 L777.0 854.0 L777.2 857.0 L777.1 860.0 L776.9 863.0 L776.8 866.0 L777.0 869.0 L777.2 872.0 L777.5 875.0 L777.2 878.0 L777.2 881.0 L777.3 884.0 L777.1 887.0 L776.8 890.0 L776.8 892.6" stroke="rgb(190,190,190)" stroke-width="2.4"/>
<path d="M787.6 497.0 L787.7 500.0 L787.8 503.0 L787.5 506.0 L787.1 509.0 L788.0 512.0 L788.0 515.0 L787.7 518.0 L787.3 521.0 L787.2 524.0 L787.5 527.0 L787.6 530.0 L787.4 533.0 L787.4 536.0 L787.6 539.0 L787.7 542.0 L787.5 545.0 L787.1 548.0 L787.0 551.0 L787.1 554.0 L786.9 557.0 L786.7 560.0 L787.5 563.0 L787.7 566.0 L787.9 569.0 L787.6 572.0 L787.4 575.0 L787.3 578.0 L787.3 581.0 L787.9 584.0 L787.5 587.0 L787.4 590.0 L787.6 593.0 L787.7 596.0 L787.5 599.0 L787.5 602.0 L787.8 605.0 L787.9 608.0 L787.7 611.0 L787.3 614.0 L787.2 617.0 L787.3 620.0 L787.2 623.0 L786.9 626.0 L786.9 629.0 L787.2 632.0 L787.4 635.0 L787.3 638.0 L787.1 641.0 L787.2 644.0 L788.1 647.0 L787.9 650.0 L787.4 653.0 L787.4 656.0 L787.6 659.0 L787.7 662.0 L787.5 665.0 L787.5 668.0 L787.8 671.0 L788.0 674.0 L787.7 677.0 L787.4 680.0 L787.3 683.0 L787.4 686.0 L787.3 689.0 L787.0 692.0 L786.9 695.0 L787.3 698.0 L787.5 700.0" stroke="rgb(187,187,187)" stroke-width="2.2"/>
<path d="M787.5 700.0 L787.4 703.0 L787.2 706.0 L787.2 709.0 L787.4 712.0 L787.3 715.0 L786.8 718.0 L786.6 721.0 L787.6 724.0 L787.8 727.0 L787.6 730.0 L787.5 733.0 L787.6 736.0 L787.9 739.0 L787.8 742.0 L787.4 745.0 L787.2 748.0 L787.2 751.0 L787.1 754.0 L786.8 757.0 L786.6 760.0 L787.7 763.0 L787.9 766.0 L787.9 769.0 L787.7 772.0 L787.7 775.0 L787.8 778.0 L787.7 781.0 L787.2 784.0 L786.9 787.0 L787.0 790.0 L787.1 793.0 L787.0 796.0 L786.8 799.0 L787.9 802.0 L788.2 805.0 L788.1 808.0 L787.7 811.0 L787.5 814.0 L787.6 817.0 L787.5 820.0 L787.1 823.0 L786.9 826.0 L787.1 829.0 L787.4 832.0 L787.4 835.0 L787.2 838.0 L787.2 841.0 L787.3 844.0 L788.1 847.0 L787.6 850.0 L787.3 853.0 L787.3 856.0 L787.4 859.0 L787.2 862.0 L787.0 865.0 L787.2 868.0 L787.4 871.0 L787.8 873.0" stroke="rgb(180,180,180)" stroke-width="2.0"/>
<path d="M797.8 497.0 L798.0 500.0 L798.0 503.0 L797.7 506.0 L797.3 509.0 L798.2 512.0 L798.2 515.0 L797.9 518.0 L797.5 521.0 L797.4 524.0 L797.7 527.0 L797.8 530.0 L797.6 533.0 L797.6 536.0 L797.8 539.0 L798.0 542.0 L797.7 545.0 L797.3 548.0 L797.2 551.0 L797.3 554.0 L797.2 557.0 L796.9 560.0 L797.7 563.0 L798.0 566.0 L798.1 569.0 L797.9 572.0 L797.6 575.0 L797.6 578.0 L797.6 581.0 L798.1 584.0 L797.7 587.0 L797.6 590.0 L797.8 593.0 L797.9 596.0 L797.8 599.0 L797.7 602.0 L798.0 605.0 L798.2 608.0 L797.9 611.0 L797.5 614.0 L797.4 617.0 L797.5 620.0 L797.4 623.0 L797.1 626.0 L797.1 629.0 L797.4 632.0 L797.6 635.0 L797.5 638.0 L797.3 641.0 L797.4 644.0 L798.3 647.0 L798.1 650.0 L797.7 653.0 L797.6 656.0 L797.8 659.0 L797.9 662.0 L797.7 665.0 L797.7 668.0 L798.0 671.0 L798.2 674.0 L798.0 677.0 L797.6 680.0 L797.5 683.0 L797.6 686.0 L797.5 689.0 L797.2 692.0 L797.1 695.0 L797.5 698.0 L797.7 701.0 L797.6 704.0 L797.4 707.0 L797.5 710.0 L797.6 713.0 L797.3 716.0 L796.9 719.0 L796.8 722.0 L797.9 725.0 L797.9 728.0 L797.7 731.0 L797.7 734.0 L798.0 737.0 L798.1 740.0 L797.9 743.0 L797.5 746.0 L797.4 749.0 L797.4 752.0 L797.2 755.0 L796.9 758.0 L796.8 761.0 L798.0 764.0 L798.2 767.0 L798.0 770.0 L797.9 773.0 L797.9 776.0 L798.0 779.0 L797.7 782.0 L797.3 785.0 L797.1 788.0 L797.3 791.0 L797.3 794.0 L797.1 797.0 L797.1 800.0 L798.2 803.0 L798.4 806.0 L798.2 809.0 L797.8 812.0 L797.7 815.0 L797.8 818.0 L797.6 821.0 L797.2 824.0 L797.2 827.0 L797.5 830.0 L797.6 833.0 L797.5 836.0 L797.3 839.0 L797.5 842.0 L797.5 845.0 L798.1 848.0 L797.6 851.0 L797.5 854.0 L797.6 857.0 L797.5 860.0 L797.3 863.0 L797.2 866.0 L797.5 869.0 L797.6 872.0" stroke="rgb(188,188,188)" stroke-width="2.4"/>
<path d="M808.0 497.0 L808.2 500.0 L808.2 503.0 L807.9 506.0 L807.5 509.0 L808.4 512.0 L808.4 515.0 L808.2 518.0 L807.7 521.0 L807.6 524.0 L807.9 527.0 L808.0 530.0 L807.8 533.0 L807.8 536.0 L808.0 539.0 L808.2 542.0 L807.9 545.0 L807.5 548.0 L807.4 551.0 L807.5 554.0 L807.4 557.0 L807.1 560.0 L807.9 563.0 L808.2 566.0 L808.3 569.0 L808.1 572.0 L807.8 575.0 L807.8 578.0 L807.8 581.0 L808.3 584.0 L807.9 587.0 L807.8 590.0 L808.0 593.0 L808.1 596.0 L808.0 599.0 L807.9 602.0 L808.2 605.0 L808.4 608.0 L808.1 611.0 L807.7 614.0 L807.7 617.0 L807.7 620.0 L807.6 623.0 L807.3 626.0 L807.3 629.0 L807.6 632.0 L807.8 635.0 L807.7 638.0 L807.5 641.0 L807.6 644.0 L808.5 647.0 L808.3 650.0 L807.9 653.0 L807.8 656.0 L808.0 659.0 L808.1 662.0 L807.9 665.0 L807.9 668.0 L808.2 671.0 L808.4 674.0 L808.2 677.0 L807.8 680.0 L807.7 683.0 L807.8 686.0 L807.7 689.0 L807.4 692.0 L807.4 695.0 L807.7 698.0 L807.9 701.0 L807.8 704.0 L807.6 707.0 L807.7 710.0 L807.8 713.0 L807.6 716.0 L807.1 719.0 L807.0 722.0 L808.1 725.0 L808.2 728.0 L808.0 731.0 L807.9 734.0 L808.2 737.0 L808.3 740.0 L808.1 743.0 L807.7 746.0 L807.6 749.0 L807.6 752.0 L807.5 755.0 L807.1 758.0 L807.0 761.0 L808.2 764.0 L808.4 767.0 L808.2 770.0 L808.1 773.0 L808.2 776.0 L808.2 779.0 L807.9 782.0 L807.5 785.0 L807.3 788.0 L807.5 791.0 L807.5 794.0 L807.3 797.0 L807.3 800.0 L808.4 803.0 L808.6 806.0 L808.4 809.0 L808.0 812.0 L808.0 815.0 L808.0 818.0 L807.8 821.0 L807.4 824.0 L807.4 827.0 L807.7 830.0 L807.9 833.0 L807.7 836.0 L807.6 839.0 L807.7 842.0 L807.8 845.0 L808.3 848.0 L807.9 851.0 L807.7 854.0 L807.8 857.0 L807.8 860.0 L807.5 863.0 L807.4 864.0" stroke="rgb(211,211,211)" stroke-width="3.2"/>
<path d="M818.2 497.0 L818.4 500.0 L818.4 503.0 L818.1 506.0 L817.8 509.0 L818.6 512.0 L818.6 515.0 L818.4 518.0 L817.9 521.0 L817.9 524.0 L818.1 527.0 L818.2 530.0 L818.0 533.0 L818.0 536.0 L818.2 539.0 L818.4 542.0 L818.1 545.0 L817.7 548.0 L817.6 551.0 L817.7 554.0 L817.6 557.0 L817.3 560.0 L818.1 563.0 L818.4 566.0 L818.5 569.0 L818.3 572.0 L818.0 575.0 L818.0 578.0 L818.0 581.0 L818.5 584.0 L818.1 587.0 L818.0 590.0 L818.2 593.0 L818.3 596.0 L818.2 599.0 L818.1 602.0 L818.4 605.0 L818.6 608.0 L818.3 611.0 L818.0 614.0 L817.9 617.0 L817.9 620.0 L817.8 623.0 L817.5 626.0 L817.5 629.0 L817.8 632.0 L818.0 635.0 L817.9 638.0 L817.7 641.0 L817.8 644.0 L818.8 647.0 L818.5 650.0 L818.1 653.0 L818.0 656.0 L818.2 659.0 L818.3 662.0 L818.1 665.0 L818.1 668.0 L818.4 671.0 L818.6 674.0 L818.4 677.0 L818.0 680.0 L817.9 683.0 L818.0 686.0 L817.9 689.0 L817.6 692.0 L817.6 695.0 L817.9 698.0 L818.1 701.0 L818.0 704.0 L817.8 707.0 L817.9 710.0 L818.0 713.0 L817.8 716.0 L817.3 719.0 L817.2 722.0 L818.3 725.0 L818.4 728.0 L818.2 731.0 L818.1 734.0 L818.4 737.0 L818.5 740.0 L818.3 743.0 L817.9 746.0 L817.8 749.0 L817.9 752.0 L817.7 755.0 L817.3 758.0 L817.2 761.0 L818.4 764.0 L818.6 767.0 L818.5 770.0 L818.3 773.0 L818.4 776.0 L818.4 779.0 L818.1 782.0 L817.7 785.0 L817.5 788.0 L817.7 791.0 L817.7 794.0 L817.5 797.0 L817.5 800.0 L818.6 803.0 L818.8 806.0 L818.6 809.0 L818.3 812.0 L818.2 815.0 L818.2 818.0 L818.0 821.0 L817.7 824.0 L817.6 827.0 L817.9 830.0 L818.1 833.0 L817.9 836.0 L817.8 839.0 L817.9 842.0 L818.0 845.0 L818.6 848.0 L818.1 851.0 L817.9 854.0 L818.0 857.0 L818.0 860.0 L817.7 863.0 L817.6 866.0 L817.9 869.0 L818.0 872.0 L818.5 873.0" stroke="rgb(215,215,215)" stroke-width="3.6"/>
<path d="M818.5 873.0 L818.2 876.0 L818.0 879.0 L818.1 882.0 L818.1 885.0 L817.9 888.0 L817.6 891.0 L817.6 892.6" stroke="rgb(188,188,188)" stroke-width="2.2"/>
<path d="M828.4 497.0 L828.6 500.0 L828.7 503.0 L828.3 506.0 L828.0 509.0 L828.8 512.0 L828.9 515.0 L828.6 518.0 L828.2 521.0 L828.1 524.0 L828.3 527.0 L828.4 530.0 L828.2 533.0 L828.2 536.0 L828.4 539.0 L828.6 542.0 L828.3 545.0 L827.9 548.0 L827.8 551.0 L827.9 554.0 L827.8 557.0 L827.5 560.0 L828.3 563.0 L828.6 566.0 L828.7 569.0 L828.5 572.0 L828.2 575.0 L828.2 578.0 L828.2 581.0 L828.7 584.0 L828.3 587.0 L828.2 590.0 L828.4 593.0 L828.5 596.0 L828.4 599.0 L828.4 602.0 L828.6 605.0 L828.8 608.0 L828.5 611.0 L828.2 614.0 L828.1 617.0 L828.2 620.0 L828.0 623.0 L827.7 626.0 L827.7 629.0 L828.0 632.0 L828.2 635.0 L828.1 638.0 L827.9 641.0 L828.0 644.0 L829.0 647.0 L828.7 650.0 L828.3 653.0 L828.2 656.0 L828.4 659.0 L828.5 662.0 L828.4 665.0 L828.3 668.0 L828.6 671.0 L828.8 674.0 L828.6 677.0 L828.2 680.0 L828.2 683.0 L828.2 686.0 L828.1 689.0 L827.8 692.0 L827.8 695.0 L828.1 698.0 L828.3 701.0 L828.2 704.0 L828.0 707.0 L828.1 710.0 L828.2 713.0 L828.0 716.0 L827.5 719.0 L827.4 722.0 L828.5 725.0 L828.6 728.0 L828.4 731.0 L828.3 734.0 L828.6 737.0 L828.8 740.0 L828.5 743.0 L828.1 746.0 L828.0 749.0 L828.1 752.0 L827.9 755.0 L827.5 758.0 L827.4 761.0 L828.6 764.0 L828.8 767.0 L828.7 770.0 L828.5 773.0 L828.6 776.0 L828.7 779.0 L828.4 782.0 L827.9 785.0 L827.8 788.0 L827.9 791.0 L827.9 794.0 L827.7 797.0 L827.7 800.0 L828.9 803.0 L829.1 806.0 L828.8 809.0 L828.5 812.0 L828.4 815.0 L828.4 818.0 L828.2 821.0 L827.9 824.0 L827.8 827.0 L828.1 830.0 L828.3 833.0 L828.1 836.0 L828.0 839.0 L828.1 842.0 L828.2 845.0 L828.8 848.0 L828.3 851.0 L828.1 854.0 L828.2 857.0 L828.2 860.0 L827.9 863.0 L827.8 866.0 L828.1 869.0 L828.3 872.0 L828.7 873.0" stroke="rgb(209,209,209)" stroke-width="3.2"/>
<path d="M838.6 497.0 L838.8 500.0 L838.9 503.0 L838.5 506.0 L838.2 509.0 L839.0 512.0 L839.1 515.0 L838.8 518.0 L838.4 521.0 L838.3 524.0 L838.5 527.0 L838.6 530.0 L838.5 533.0 L838.4 536.0 L838.6 539.0 L838.8 542.0 L838.5 545.0 L838.1 548.0 L838.0 551.0 L838.1 554.0 L838.0 557.0 L837.7 560.0 L838.5 563.0 L838.8 566.0 L838.9 569.0 L838.7 572.0 L838.4 575.0 L838.4 578.0 L838.4 581.0 L838.9 584.0 L838.5 587.0 L838.4 590.0 L838.7 593.0 L838.8 596.0 L838.6 599.0 L838.6 602.0 L838.8 605.0 L839.0 608.0 L838.8 611.0 L838.4 614.0 L838.3 617.0 L838.4 620.0 L838.2 623.0 L837.9 626.0 L837.9 629.0 L838.2 632.0 L838.5 635.0 L838.3 638.0 L838.1 641.0 L838.2 644.0 L839.2 647.0 L838.9 650.0 L838.5 653.0 L838.4 656.0 L838.6 659.0 L838.7 662.0 L838.6 665.0 L838.5 668.0 L838.8 671.0 L839.0 674.0 L838.8 677.0 L838.4 680.0 L838.4 683.0 L838.5 686.0 L838.3 689.0 L838.0 692.0 L838.0 695.0 L838.3 698.0 L838.5 701.0 L838.4 704.0 L838.2 707.0 L838.3 710.0 L838.4 713.0 L838.2 716.0 L837.8 719.0 L837.6 722.0 L838.8 725.0 L838.8 728.0 L838.6 731.0 L838.5 734.0 L838.8 737.0 L839.0 740.0 L838.7 743.0 L838.3 746.0 L838.2 749.0 L838.3 752.0 L838.1 755.0 L837.7 758.0 L837.6 761.0 L838.8 764.0 L839.0 767.0 L838.9 770.0 L838.7 773.0 L838.8 776.0 L838.9 779.0 L838.6 782.0 L838.1 785.0 L838.0 788.0 L838.1 791.0 L838.1 794.0 L837.9 797.0 L837.9 800.0 L839.1 803.0 L839.3 806.0 L839.0 809.0 L838.7 812.0 L838.6 815.0 L838.6 818.0 L838.4 821.0 L838.3 822.0" stroke="rgb(188,188,188)" stroke-width="2.0"/>
<path d="M838.3 822.0 L838.0 825.0 L838.1 828.0 L838.4 831.0 L838.5 834.0 L838.3 837.0 L838.2 840.0 L838.3 843.0 L839.2 846.0 L838.8 849.0 L838.4 852.0 L838.3 855.0 L838.4 858.0 L838.3 861.0 L838.1 864.0 L838.1 867.0 L838.4 870.0 L838.9 873.0" stroke="rgb(206,206,206)" stroke-width="2.6"/>
<path d="M838.9 873.0 L838.6 876.0 L838.4 879.0 L838.5 882.0 L838.5 885.0 L838.3 888.0 L838.0 891.0 L838.0 892.6" stroke="rgb(182,182,182)" stroke-width="2.0"/>
<path d="M848.8 497.0 L849.0 500.0 L849.1 503.0 L848.8 506.0 L848.4 509.0 L849.2 512.0 L849.3 515.0 L849.0 518.0 L848.6 521.0 L848.5 524.0 L848.7 527.0 L848.8 530.0 L848.7 533.0 L848.6 536.0 L848.9 539.0 L849.0 542.0 L848.7 545.0 L848.3 548.0 L848.2 551.0 L848.3 554.0 L848.2 557.0 L847.9 560.0 L848.8 563.0 L849.0 566.0 L849.2 569.0 L848.9 572.0 L848.6 575.0 L848.6 578.0 L848.6 581.0 L849.2 584.0 L848.7 587.0 L848.6 590.0 L848.9 593.0 L849.0 596.0 L848.8 599.0 L848.8 602.0 L849.0 605.0 L849.2 608.0 L849.0 611.0 L848.6 614.0 L848.5 617.0 L848.6 620.0 L848.4 623.0 L848.1 626.0 L848.1 629.0 L848.4 632.0 L848.7 635.0 L848.5 638.0 L848.3 641.0 L848.4 644.0 L849.4 647.0 L849.1 650.0 L848.7 653.0 L848.6 656.0 L848.8 659.0 L848.9 662.0 L848.8 665.0 L848.8 668.0 L849.0 671.0 L849.2 674.0 L849.0 677.0 L848.6 680.0 L848.6 683.0 L848.7 686.0 L848.5 689.0 L848.2 692.0 L848.2 695.0 L848.5 698.0 L848.7 701.0 L848.6 704.0 L848.5 707.0 L848.6 710.0 L848.7 713.0 L848.4 716.0 L848.0 719.0 L847.9 722.0 L849.0 725.0 L849.0 728.0 L848.8 731.0 L848.7 734.0 L849.0 737.0 L849.2 740.0 L848.9 743.0 L848.5 746.0 L848.4 749.0 L848.5 752.0 L848.3 755.0 L847.9 758.0 L847.8 761.0 L849.1 764.0 L849.3 767.0 L849.1 770.0 L848.9 773.0 L849.0 776.0 L849.1 779.0 L848.8 782.0 L848.3 785.0 L848.2 788.0 L848.3 791.0 L848.3 794.0 L848.1 797.0 L848.1 800.0 L849.3 803.0 L849.5 806.0 L849.3 809.0 L848.9 812.0 L848.8 815.0 L848.9 818.0 L848.7 821.0 L848.3 824.0 L848.2 827.0 L848.5 830.0 L848.7 833.0 L848.5 836.0 L848.4 839.0 L848.5 842.0 L848.6 845.0 L849.2 848.0 L848.7 851.0 L848.5 854.0 L848.6 857.0 L848.6 860.0 L848.3 863.0 L848.3 866.0 L848.5 869.0 L848.7 872.0 L849.1 873.0" stroke="rgb(211,211,211)" stroke-width="2.9"/>
<path d="M849.1 873.0 L848.8 876.0 L848.6 879.0 L848.7 882.0 L848.7 885.0 L848.5 888.0 L848.2 891.0 L848.2 892.6" stroke="rgb(188,188,188)" stroke-width="2.2"/>
<path d="M859.0 497.0 L859.2 500.0 L859.3 503.0 L859.0 506.0 L858.6 509.0 L859.4 512.0 L859.5 515.0 L859.2 518.0 L858.8 521.0 L858.7 524.0 L858.9 527.0 L859.0 530.0 L858.9 533.0 L858.8 536.0 L859.1 539.0 L859.2 542.0 L859.0 545.0 L858.5 548.0 L858.4 551.0 L858.5 554.0 L858.4 557.0 L858.1 560.0 L859.0 563.0 L859.2 566.0 L859.4 569.0 L859.1 572.0 L858.8 575.0 L858.8 578.0 L858.8 581.0 L859.4 584.0 L858.9 587.0 L858.8 590.0 L859.1 593.0 L859.2 596.0 L859.0 599.0 L859.0 602.0 L859.3 605.0 L859.4 608.0 L859.2 611.0 L858.8 614.0 L858.7 617.0 L858.8 620.0 L858.6 623.0 L858.3 626.0 L858.3 629.0 L858.7 632.0 L858.9 635.0 L858.7 638.0 L858.5 641.0 L858.6 644.0 L859.6 647.0 L859.4 650.0 L858.9 653.0 L858.8 656.0 L859.1 659.0 L859.1 662.0 L859.0 665.0 L859.0 668.0 L859.3 671.0 L859.5 674.0 L859.2 677.0 L858.9 680.0 L858.8 683.0 L858.9 686.0 L858.7 689.0 L858.4 692.0 L858.4 695.0 L858.7 698.0 L859.0 701.0 L858.8 704.0 L858.7 707.0 L858.8 710.0 L858.9 713.0 L858.6 716.0 L858.2 719.0 L858.1 722.0 L859.2 725.0 L859.2 728.0 L859.0 731.0 L859.0 734.0 L859.2 737.0 L859.4 740.0 L859.1 743.0 L858.8 746.0 L858.6 749.0 L858.7 752.0 L858.5 755.0 L858.1 758.0 L858.0 761.0 L859.3 764.0 L859.5 767.0 L859.3 770.0 L859.1 773.0 L859.2 776.0 L859.3 779.0 L859.0 782.0 L858.5 785.0 L858.4 788.0 L858.5 791.0 L858.6 794.0 L858.3 797.0 L858.3 800.0 L859.5 803.0 L859.7 806.0 L859.5 809.0 L859.1 812.0 L859.0 815.0 L859.1 818.0 L858.9 821.0 L858.5 824.0 L858.4 827.0 L858.7 830.0 L858.9 833.0 L858.8 836.0 L858.6 839.0 L858.7 842.0 L858.8 845.0 L859.4 848.0 L858.9 851.0 L858.7 853.0" stroke="rgb(211,211,211)" stroke-width="2.9"/>
<path d="M858.7 853.0 L858.8 856.0 L858.8 859.0 L858.6 862.0 L858.4 865.0 L858.6 868.0 L858.9 871.0 L859.2 874.0 L858.9 877.0 L858.8 880.0 L858.9 883.0 L858.9 886.0 L858.6 889.0 L858.4 892.0 L858.7 895.0" stroke="rgb(192,192,192)" stroke-width="2.4"/>
<path d="M869.2 497.0 L869.4 500.0 L869.5 503.0 L869.2 506.0 L868.8 509.0 L869.7 512.0 L869.7 515.0 L869.4 518.0 L869.0 521.0 L868.9 524.0 L869.1 527.0 L869.3 530.0 L869.1 533.0 L869.0 536.0 L869.3 539.0 L869.4 542.0 L869.2 545.0 L868.7 548.0 L868.6 551.0 L868.7 554.0 L868.6 557.0 L868.3 560.0 L869.2 563.0 L869.4 566.0 L869.6 569.0 L869.3 572.0 L869.0 575.0 L869.0 578.0 L869.0 581.0 L869.6 584.0 L869.2 587.0 L869.1 590.0 L869.3 593.0 L869.4 596.0 L869.2 599.0 L869.2 602.0 L869.5 605.0 L869.6 608.0 L869.4 611.0 L869.0 614.0 L868.9 617.0 L869.0 620.0 L868.9 623.0 L868.5 626.0 L868.5 629.0 L868.9 632.0 L869.1 635.0 L868.9 638.0 L868.7 641.0 L868.8 644.0 L869.8 647.0 L869.6 650.0 L869.1 653.0 L869.0 656.0 L869.3 659.0 L869.4 662.0 L869.2 665.0 L869.2 668.0 L869.5 671.0 L869.7 674.0 L869.4 677.0 L869.1 680.0 L869.0 683.0 L869.1 686.0 L868.9 689.0 L868.6 692.0 L868.6 695.0 L868.9 698.0 L869.2 701.0 L869.0 704.0 L868.9 707.0 L869.0 710.0 L869.1 713.0 L868.8 716.0 L868.4 719.0 L868.3 722.0 L869.4 725.0 L869.4 728.0 L869.2 731.0 L869.2 734.0 L869.4 737.0 L869.6 740.0 L869.4 743.0 L869.0 746.0 L868.9 749.0 L868.9 752.0 L868.7 755.0 L868.3 758.0 L868.3 761.0 L869.5 764.0 L869.7 767.0 L869.5 770.0 L869.3 773.0 L869.4 776.0 L869.5 779.0 L869.2 782.0 L868.7 785.0 L868.6 788.0 L868.7 791.0 L868.8 794.0 L868.5 797.0 L868.5 800.0 L869.7 803.0 L869.9 806.0 L869.7 809.0 L869.3 812.0 L869.2 815.0 L869.3 818.0 L869.1 821.0 L868.7 824.0 L868.6 827.0 L868.9 830.0 L869.1 833.0 L869.0 836.0 L868.8 839.0 L868.9 842.0 L869.0 845.0 L869.6 848.0 L869.1 851.0 L868.9 854.0 L869.0 857.0 L869.0 860.0 L868.7 863.0 L868.6 865.0" stroke="rgb(195,195,195)" stroke-width="2.5"/>
<path d="M879.5 497.0 L879.6 500.0 L879.7 503.0 L879.4 506.0 L879.0 509.0 L879.9 512.0 L879.9 515.0 L879.6 518.0 L879.2 521.0 L879.1 524.0 L879.4 527.0 L879.5 530.0 L879.3 533.0 L879.2 536.0 L879.5 539.0 L879.7 542.0 L879.4 545.0 L879.0 548.0 L878.8 551.0 L878.9 554.0 L878.8 557.0 L878.5 560.0 L879.4 563.0 L879.7 566.0 L879.8 569.0 L879.6 572.0 L879.3 575.0 L879.2 578.0 L879.2 581.0 L879.8 584.0 L879.4 587.0 L879.3 590.0 L879.5 593.0 L879.6 596.0 L879.4 599.0 L879.4 602.0 L879.7 605.0 L879.9 608.0 L879.6 611.0 L879.2 614.0 L879.1 617.0 L879.2 620.0 L879.1 623.0 L878.8 626.0 L878.7 629.0 L879.1 632.0 L879.3 635.0 L879.1 638.0 L879.0 641.0 L879.0 644.0 L880.1 647.0 L879.8 650.0 L879.3 653.0 L879.2 656.0 L879.5 659.0 L879.6 662.0 L879.4 665.0 L879.4 668.0 L879.7 671.0 L879.9 674.0 L879.7 677.0 L879.3 680.0 L879.2 683.0 L879.3 686.0 L879.1 689.0 L878.8 692.0 L878.8 695.0 L879.1 698.0 L879.4 701.0 L879.2 704.0 L879.1 707.0 L879.2 710.0 L879.3 713.0 L879.0 716.0 L878.6 719.0 L878.5 722.0 L879.6 725.0 L879.6 728.0 L879.4 731.0 L879.4 734.0 L879.6 737.0 L879.8 740.0 L879.6 743.0 L879.2 746.0 L879.1 749.0 L879.1 752.0 L878.9 755.0 L878.5 758.0 L878.5 761.0 L879.7 764.0 L879.9 767.0 L879.7 770.0 L879.5 773.0 L879.6 776.0 L879.7 779.0 L879.4 782.0 L878.9 785.0 L878.8 788.0 L878.9 791.0 L879.0 794.0 L878.8 797.0 L878.7 800.0 L879.9 803.0 L880.1 806.0 L879.9 809.0 L879.5 812.0 L879.4 815.0 L879.5 818.0 L879.3 821.0 L878.9 824.0 L878.8 827.0 L879.1 830.0 L879.3 833.0 L879.2 836.0 L879.0 839.0 L879.1 842.0 L879.2 845.0 L879.8 848.0 L879.3 851.0 L879.1 854.0 L879.2 857.0 L879.2 860.0 L879.0 863.0 L878.9 866.0 L879.1 869.0 L879.3 872.0 L879.6 875.0 L879.3 878.0 L879.3 881.0 L879.4 884.0 L879.2 887.0 L878.9 890.0 L878.9 892.6" stroke="rgb(188,188,188)" stroke-width="2.2"/>
<path d="M889.7 497.0 L889.9 500.0 L889.9 503.0 L889.6 506.0 L889.2 509.0 L890.1 512.0 L890.1 515.0 L889.9 518.0 L889.4 521.0 L889.3 524.0 L889.6 527.0 L889.7 530.0 L889.5 533.0 L889.5 536.0 L889.7 539.0 L889.9 542.0 L889.6 545.0 L889.2 548.0 L889.1 551.0 L889.1 554.0 L889.0 557.0 L888.7 560.0 L889.6 563.0 L889.9 566.0 L890.0 569.0 L889.8 572.0 L889.5 575.0 L889.4 578.0 L889.4 581.0 L890.0 584.0 L889.6 587.0 L889.5 590.0 L889.7 593.0 L889.8 596.0 L889.7 599.0 L889.6 602.0 L889.9 605.0 L890.1 608.0 L889.8 611.0 L889.4 614.0 L889.3 617.0 L889.4 620.0 L889.3 623.0 L889.0 626.0 L888.9 629.0 L889.3 632.0 L889.5 635.0 L889.4 638.0 L889.2 641.0 L889.2 644.0 L890.3 647.0 L890.0 650.0 L889.6 653.0 L889.5 656.0 L889.7 659.0 L889.8 662.0 L889.6 665.0 L889.6 668.0 L889.9 671.0 L890.1 674.0 L889.9 677.0 L889.5 680.0 L889.4 683.0 L889.5 686.0 L889.4 689.0 L889.0 692.0 L889.0 695.0 L889.4 698.0 L889.6 701.0 L889.5 704.0 L889.3 707.0 L889.4 710.0 L889.5 713.0 L889.2 716.0 L888.8 719.0 L888.7 722.0 L889.8 725.0 L889.9 728.0 L889.6 731.0 L889.6 734.0 L889.9 737.0 L890.0 740.0 L889.8 743.0 L889.4 746.0 L889.3 749.0 L889.3 752.0 L889.1 755.0 L888.7 758.0 L888.7 761.0 L889.9 764.0 L890.1 767.0 L889.9 770.0 L889.8 773.0 L889.9 776.0 L889.9 779.0 L889.6 782.0 L889.1 785.0 L889.0 788.0 L889.2 791.0 L889.2 794.0 L889.0 797.0 L888.9 800.0 L890.1 803.0 L890.3 806.0 L890.1 809.0 L889.7 812.0 L889.6 815.0 L889.7 818.0 L889.5 821.0 L889.1 824.0 L889.0 827.0 L889.3 830.0 L889.5 833.0 L889.4 836.0 L889.2 839.0 L889.3 842.0 L889.4 845.0 L890.1 848.0 L889.5 851.0 L889.3 854.0 L889.5 857.0 L889.4 860.0 L889.2 863.0 L889.1 866.0 L889.3 869.0 L889.5 872.0" stroke="rgb(183,183,183)" stroke-width="2.0"/>
<path d="M889.5 872.0 L889.8 875.0 L889.5 878.0 L889.5 881.0 L889.6 884.0 L889.4 887.0 L889.1 890.0 L889.1 893.0 L889.4 896.0 L889.7 899.0 L889.6 902.0 L889.5 905.0 L889.7 908.0 L889.9 911.0 L889.7 914.0 L889.3 917.0 L889.2 920.0 L889.4 923.0 L889.4 926.0 L889.3 929.0 L889.3 932.0 L889.6 935.0 L889.9 938.0 L889.8 941.0 L889.5 944.0 L889.5 947.0 L889.6 950.0 L889.5 953.0 L889.1 956.0 L889.1 959.0 L889.4 962.0 L889.7 965.0 L889.6 968.0 L889.5 971.0 L889.6 973.0" stroke="rgb(188,188,188)" stroke-width="2.2"/>
<path d="M899.9 497.0 L900.1 500.0 L900.1 503.0 L899.8 506.0 L899.4 509.0 L900.3 512.0 L900.4 515.0 L900.1 518.0 L899.6 521.0 L899.5 524.0 L899.8 527.0 L899.9 530.0 L899.7 533.0 L899.7 536.0 L899.9 539.0 L900.1 542.0 L899.8 545.0 L899.4 548.0 L899.3 551.0 L899.4 554.0 L899.2 557.0 L898.9 560.0 L899.8 563.0 L900.1 566.0 L900.2 569.0 L900.0 572.0 L899.7 575.0 L899.7 578.0 L899.6 581.0 L900.2 584.0 L899.8 587.0 L899.7 590.0 L899.9 593.0 L900.0 596.0 L899.9 599.0 L899.8 602.0 L900.1 605.0 L900.3 608.0 L900.0 611.0 L899.6 614.0 L899.5 617.0 L899.6 620.0 L899.5 623.0 L899.2 626.0 L899.1 629.0 L899.5 632.0 L899.7 635.0 L899.6 638.0 L899.4 641.0 L899.4 644.0 L900.5 647.0 L900.2 650.0 L899.8 653.0 L899.7 656.0 L899.9 659.0 L900.0 662.0 L899.8 665.0 L899.8 668.0 L900.1 671.0 L900.3 674.0 L900.1 677.0 L899.7 680.0 L899.6 683.0 L899.7 686.0 L899.6 689.0 L899.2 692.0 L899.2 695.0 L899.6 698.0 L899.8 701.0 L899.7 704.0 L899.5 707.0 L899.6 710.0 L899.7 713.0 L899.4 716.0 L899.0 719.0 L898.9 722.0 L900.0 725.0 L900.1 728.0 L899.9 731.0 L899.8 734.0 L900.1 737.0 L900.3 740.0 L900.0 743.0 L899.6 746.0 L899.5 749.0 L899.5 752.0 L899.3 755.0 L898.9 758.0 L898.9 761.0 L900.1 764.0 L900.3 767.0 L900.2 770.0 L900.0 773.0 L900.1 776.0 L900.1 779.0 L899.8 782.0 L899.4 785.0 L899.2 788.0 L899.4 791.0 L899.4 794.0 L899.2 797.0 L899.1 800.0 L900.4 803.0 L900.6 806.0 L900.3 809.0 L899.9 812.0 L899.9 815.0 L899.9 818.0 L899.7 821.0 L899.3 824.0 L899.2 827.0 L899.5 830.0 L899.7 833.0 L899.6 836.0 L899.4 839.0 L899.5 842.0 L899.6 845.0 L900.3 848.0 L899.7 851.0 L899.6 854.0 L899.7 857.0 L899.6 860.0 L899.4 863.0 L899.3 866.0 L899.6 869.0 L899.7 872.0 L900.2 873.0" stroke="rgb(181,181,181)" stroke-width="2.0"/>
<path d="M900.2 873.0 L899.9 876.0 L899.7 879.0 L899.7 882.0 L899.8 885.0 L899.5 888.0 L899.3 891.0 L899.3 893.5" stroke="rgb(210,210,210)" stroke-width="3.0"/>
<path d="M899.3 893.5 L899.7 896.5 L899.9 899.5 L899.8 902.5 L899.7 905.0" stroke="rgb(186,186,186)" stroke-width="2.2"/>
<path d="M910.1 497.0 L910.3 500.0 L910.4 503.0 L910.0 506.0 L909.6 509.0 L910.5 512.0 L910.6 515.0 L910.3 518.0 L909.8 521.0 L909.7 524.0 L910.0 527.0 L910.1 530.0 L909.9 533.0 L909.9 536.0 L910.1 539.0 L910.3 542.0 L910.0 545.0 L909.6 548.0 L909.5 551.0 L909.6 554.0 L909.4 557.0 L909.1 560.0 L910.0 563.0 L910.3 566.0 L910.4 569.0 L910.2 572.0 L909.9 575.0 L909.9 578.0 L909.9 581.0 L910.4 584.0 L910.0 587.0 L909.9 590.0 L910.1 593.0 L910.2 596.0 L910.1 599.0 L910.0 602.0 L910.3 605.0 L910.5 608.0 L910.2 611.0 L909.8 614.0 L909.7 617.0 L909.8 620.0 L909.7 623.0 L909.4 626.0 L909.3 629.0 L909.7 632.0 L909.9 635.0 L909.8 638.0 L909.6 641.0 L909.7 644.0 L910.7 647.0 L910.4 650.0 L910.0 653.0 L909.9 656.0 L910.1 659.0 L910.2 662.0 L910.0 665.0 L910.0 668.0 L910.3 671.0 L910.5 674.0 L910.3 677.0 L909.9 680.0 L909.8 683.0 L909.9 686.0 L909.8 689.0 L909.4 692.0 L909.4 695.0 L909.8 698.0 L910.0 701.0 L909.9 704.0 L909.7 707.0 L909.8 710.0 L909.9 713.0 L909.6 716.0 L909.2 719.0 L909.1 722.0 L910.2 725.0 L910.3 728.0 L910.1 731.0 L910.0 734.0 L910.3 737.0 L910.5 740.0 L910.2 743.0 L909.8 746.0 L909.7 749.0 L909.7 752.0 L909.5 755.0 L909.1 758.0 L909.1 761.0 L910.3 764.0 L910.5 767.0 L910.4 770.0 L910.2 773.0 L910.3 776.0 L910.4 779.0 L910.0 782.0 L909.6 785.0 L909.4 788.0 L909.6 791.0 L909.6 794.0 L909.4 797.0 L909.3 800.0 L910.6 803.0 L910.8 806.0 L910.5 809.0 L910.2 812.0 L910.1 815.0 L910.1 818.0 L909.9 821.0 L909.5 824.0 L909.4 827.0 L909.8 830.0 L910.0 833.0 L909.8 836.0 L909.6 839.0 L909.8 842.0 L909.9 845.0 L910.5 848.0 L910.0 851.0 L909.8 854.0 L909.9 857.0 L909.8 860.0 L909.6 863.0 L909.5 866.0 L909.8 869.0 L909.9 872.0 L910.4 873.0" stroke="rgb(176,176,176)" stroke-width="2.0"/>
<path d="M910.4 873.0 L910.1 876.0 L909.9 879.0 L909.9 882.0 L910.0 885.0 L909.7 888.0 L909.5 890.0" stroke="rgb(194,194,194)" stroke-width="2.4"/>
<path d="M910.0 897.0 L910.1 900.0 L910.0 903.0 L909.9 905.0" stroke="rgb(184,184,184)" stroke-width="2.0"/>
<rect x="908.6" y="892.4" width="4.2" height="5.0" fill="rgb(224,224,224)"/>
<path d="M920.2 877.0 L920.1 880.0 L920.2 883.0 L920.2 886.0 L919.8 889.0 L919.7 892.0 L919.7 892.6" stroke="rgb(196,196,196)" stroke-width="2.6"/>
<path d="M930.8 873.0 L930.5 876.0 L930.3 879.0 L930.4 882.0 L930.4 885.0 L930.2 888.0 L929.9 891.0 L930.0 894.0 L930.1 895.0" stroke="rgb(178,178,178)" stroke-width="1.8"/>
<path d="M940.7 876.5 L940.5 879.5 L940.6 882.5 L940.6 885.5 L940.3 888.5 L940.2 889.0" stroke="rgb(178,178,178)" stroke-width="1.8"/>
<path d="M940.4 916.0 L940.2 919.0 L940.3 922.0 L940.5 925.0 L940.4 926.7" stroke="rgb(188,188,188)" stroke-width="2.0"/>
<path d="M940.4 926.7 L940.3 929.7 L940.4 932.7 L940.8 935.7 L941.0 938.7 L940.8 941.7 L940.5 944.6" stroke="rgb(202,202,202)" stroke-width="2.2"/>
<path d="M940.5 944.6 L940.6 947.6 L940.7 950.6 L940.4 953.6 L940.1 956.6 L940.2 959.6 L940.5 962.6 L940.7 965.6 L940.6 968.6 L940.6 971.6 L940.7 973.0" stroke="rgb(190,190,190)" stroke-width="2.0"/>
<path d="M950.9 876.5 L950.7 879.5 L950.8 882.5 L950.8 885.5 L950.5 888.5 L950.5 889.0" stroke="rgb(177,177,177)" stroke-width="1.8"/>
<path d="M961.0 878.0 L961.0 881.0 L961.1 884.0 L960.9 887.0" stroke="rgb(175,175,175)" stroke-width="1.6"/>
<rect x="775.0" y="510.5" width="105.0" height="1.0" fill="rgb(180,180,180)" fill-opacity="0.50"/>
<rect x="790.0" y="562.0" width="90.0" height="1.0" fill="rgb(180,180,180)" fill-opacity="0.50"/>
<rect x="790.0" y="583.9" width="90.0" height="1.0" fill="rgb(180,180,180)" fill-opacity="0.50"/>
<rect x="775.0" y="644.7" width="113.0" height="1.2" fill="rgb(160,160,160)" fill-opacity="0.75"/>
<rect x="775.0" y="645.5" width="105.0" height="1.0" fill="rgb(180,180,180)" fill-opacity="0.50"/>
<rect x="775.0" y="722.7" width="113.0" height="1.2" fill="rgb(160,160,160)" fill-opacity="0.75"/>
<rect x="775.0" y="723.5" width="105.0" height="1.0" fill="rgb(180,180,180)" fill-opacity="0.50"/>
<rect x="775.0" y="760.7" width="113.0" height="1.2" fill="rgb(160,160,160)" fill-opacity="0.75"/>
<rect x="775.0" y="761.5" width="105.0" height="1.0" fill="rgb(180,180,180)" fill-opacity="0.50"/>
<rect x="775.0" y="801.5" width="105.0" height="1.0" fill="rgb(180,180,180)" fill-opacity="0.50"/>
<rect x="790.0" y="845.5" width="90.0" height="1.0" fill="rgb(180,180,180)" fill-opacity="0.50"/>
<rect x="899.8" y="923.4" width="8.2" height="1.4" fill="rgb(216,216,216)"/>
<path d="M899.3 957.0 L899.4 960.0 L899.7 963.0 L899.9 966.0 L899.7 969.0 L899.8 972.0 L899.8 973.0" stroke="rgb(198,198,198)" stroke-width="3.2"/>
<path d="M889.0 957.0 L889.2 960.0 L889.5 963.0 L889.7 966.0 L889.5 969.0 L889.6 972.0 L889.6 973.0" stroke="rgb(196,196,196)" stroke-width="2.8"/>
<path d="M930.4 948.0 L930.5 951.0 L930.2 954.0 L929.9 957.0 L930.0 960.0 L930.4 963.0 L930.5 966.0 L930.4 969.0 L930.4 972.0 L930.5 973.0" stroke="rgb(188,188,188)" stroke-width="2.0"/>
<path d="M909.4 958.0 L909.7 961.0 L910.0 964.0 L910.1 967.0 L909.9 970.0 L910.1 973.0" stroke="rgb(188,188,188)" stroke-width="2.4"/>
<rect x="337.2" y="900.5" width="1.8" height="5.0" fill="rgb(178,178,178)"/>
<rect x="357.2" y="900.5" width="1.8" height="5.0" fill="rgb(178,178,178)"/>
<rect x="398.2" y="900.5" width="1.8" height="5.0" fill="rgb(178,178,178)"/>
<rect x="408.2" y="900.5" width="1.8" height="5.0" fill="rgb(178,178,178)"/>
<rect x="460.2" y="900.5" width="1.8" height="5.0" fill="rgb(178,178,178)"/>
<rect x="480.2" y="900.5" width="1.8" height="5.0" fill="rgb(178,178,178)"/>
</g></svg>
<div id="frame"></div><div id="cbar"></div>
<div class="k" style="left:168.3px;top:108.70px;width:5.2px;height:1.1px"></div>
<div class="t" style="right:1036.8px;top:95.3px;letter-spacing:-0.12px;transform:scaleY(1.04)">05:00:00</div>
<div class="k" style="left:168.3px;top:185.80px;width:5.2px;height:1.1px"></div>
<div class="t" style="right:1036.8px;top:172.4px;letter-spacing:-0.12px;transform:scaleY(1.04)">04:00:00</div>
<div class="k" style="left:168.3px;top:262.90px;width:5.2px;height:1.1px"></div>
<div class="t" style="right:1036.8px;top:249.5px;letter-spacing:-0.12px;transform:scaleY(1.04)">03:00:00</div>
<div class="k" style="left:168.3px;top:340.00px;width:5.2px;height:1.1px"></div>
<div class="t" style="right:1036.8px;top:326.6px;letter-spacing:-0.12px;transform:scaleY(1.04)">02:00:00</div>
<div class="k" style="left:168.3px;top:417.10px;width:5.2px;height:1.1px"></div>
<div class="t" style="right:1036.8px;top:403.8px;letter-spacing:-0.12px;transform:scaleY(1.04)">01:00:00</div>
<div class="k" style="left:168.3px;top:494.20px;width:5.2px;height:1.1px"></div>
<div class="t" style="right:1036.8px;top:480.9px;letter-spacing:-0.12px;transform:scaleY(1.04)">00:00:00</div>
<div class="k" style="left:168.3px;top:571.30px;width:5.2px;height:1.1px"></div>
<div class="t" style="right:1036.8px;top:557.9px;letter-spacing:-0.12px;transform:scaleY(1.04)">23:00:00</div>
<div class="k" style="left:168.3px;top:648.40px;width:5.2px;height:1.1px"></div>
<div class="t" style="right:1036.8px;top:635.0px;letter-spacing:-0.12px;transform:scaleY(1.04)">22:00:00</div>
<div class="k" style="left:168.3px;top:725.50px;width:5.2px;height:1.1px"></div>
<div class="t" style="right:1036.8px;top:712.1px;letter-spacing:-0.12px;transform:scaleY(1.04)">21:00:00</div>
<div class="k" style="left:168.3px;top:802.60px;width:5.2px;height:1.1px"></div>
<div class="t" style="right:1036.8px;top:789.2px;letter-spacing:-0.12px;transform:scaleY(1.04)">20:00:00</div>
<div class="k" style="left:168.3px;top:879.70px;width:5.2px;height:1.1px"></div>
<div class="t" style="right:1036.8px;top:866.4px;letter-spacing:-0.12px;transform:scaleY(1.04)">19:00:00</div>
<div class="k" style="left:168.3px;top:956.80px;width:5.2px;height:1.1px"></div>
<div class="t" style="right:1036.8px;top:943.4px;letter-spacing:-0.12px;transform:scaleY(1.04)">18:00:00</div>
<div class="k" style="left:174.95px;top:977px;width:1.1px;height:4.9px"></div>
<div class="t" style="right:1040.0px;top:981.9px;transform-origin:100% 0;transform:rotate(-30deg) scaleY(1.04)">4500</div>
<div class="k" style="left:277.05px;top:977px;width:1.1px;height:4.9px"></div>
<div class="t" style="right:937.9px;top:981.9px;transform-origin:100% 0;transform:rotate(-30deg) scaleY(1.04)">5000</div>
<div class="k" style="left:379.15px;top:977px;width:1.1px;height:4.9px"></div>
<div class="t" style="right:835.8px;top:981.9px;transform-origin:100% 0;transform:rotate(-30deg) scaleY(1.04)">5500</div>
<div class="k" style="left:481.25px;top:977px;width:1.1px;height:4.9px"></div>
<div class="t" style="right:733.7px;top:981.9px;transform-origin:100% 0;transform:rotate(-30deg) scaleY(1.04)">6000</div>
<div class="k" style="left:583.35px;top:977px;width:1.1px;height:4.9px"></div>
<div class="t" style="right:631.6px;top:981.9px;transform-origin:100% 0;transform:rotate(-30deg) scaleY(1.04)">6500</div>
<div class="k" style="left:685.45px;top:977px;width:1.1px;height:4.9px"></div>
<div class="t" style="right:529.5px;top:981.9px;transform-origin:100% 0;transform:rotate(-30deg) scaleY(1.04)">7000</div>
<div class="k" style="left:787.55px;top:977px;width:1.1px;height:4.9px"></div>
<div class="t" style="right:427.4px;top:981.9px;transform-origin:100% 0;transform:rotate(-30deg) scaleY(1.04)">7500</div>
<div class="k" style="left:889.65px;top:977px;width:1.1px;height:4.9px"></div>
<div class="t" style="right:325.3px;top:981.9px;transform-origin:100% 0;transform:rotate(-30deg) scaleY(1.04)">8000</div>
<div class="k" style="left:1067px;top:975.95px;width:4.9px;height:1.1px"></div>
<div class="t" style="left:1094.9px;top:962.9px;transform:scaleY(1.04)">200</div>
<div class="k" style="left:1067px;top:835.18px;width:4.9px;height:1.1px"></div>
<div class="t" style="left:1094.9px;top:822.1px;transform:scaleY(1.04)">180</div>
<div class="k" style="left:1067px;top:694.41px;width:4.9px;height:1.1px"></div>
<div class="t" style="left:1094.9px;top:681.4px;transform:scaleY(1.04)">160</div>
<div class="k" style="left:1067px;top:553.64px;width:4.9px;height:1.1px"></div>
<div class="t" style="left:1094.9px;top:540.6px;transform:scaleY(1.04)">140</div>
<div class="k" style="left:1067px;top:412.87px;width:4.9px;height:1.1px"></div>
<div class="t" style="left:1094.9px;top:399.8px;transform:scaleY(1.04)">120</div>
<div class="k" style="left:1067px;top:272.10px;width:4.9px;height:1.1px"></div>
<div class="t" style="left:1094.9px;top:259.0px;transform:scaleY(1.04)">100</div>
<div class="k" style="left:1067px;top:131.33px;width:4.9px;height:1.1px"></div>
<div class="t" style="left:1094.9px;top:118.3px;transform:scaleY(1.04)">80</div>
<svg style="position:absolute;left:0;top:0" width="1200" height="1100" fill="#000"><rect x="1078.8" y="978.10" width="15.4" height="1.85"/><rect x="1078.8" y="837.33" width="15.4" height="1.85"/><rect x="1078.8" y="696.56" width="15.4" height="1.85"/><rect x="1078.8" y="555.79" width="15.4" height="1.85"/><rect x="1078.8" y="415.02" width="15.4" height="1.85"/><rect x="1078.8" y="274.25" width="15.4" height="1.85"/><rect x="1078.8" y="133.48" width="15.4" height="1.85"/></svg>
<div class="l" style="left:452.5px;top:26.3px;letter-spacing:0.06px">Fill 10970, B2 hor</div>
<div class="l" style="left:532px;top:1036.5px;letter-spacing:0.3px">f (Hz)</div>
<div class="l" style="left:39.8px;top:520.3px;transform:translate(-50%,-50%) rotate(-90deg)">UTC time 21/8/2025</div>
</body></html>
